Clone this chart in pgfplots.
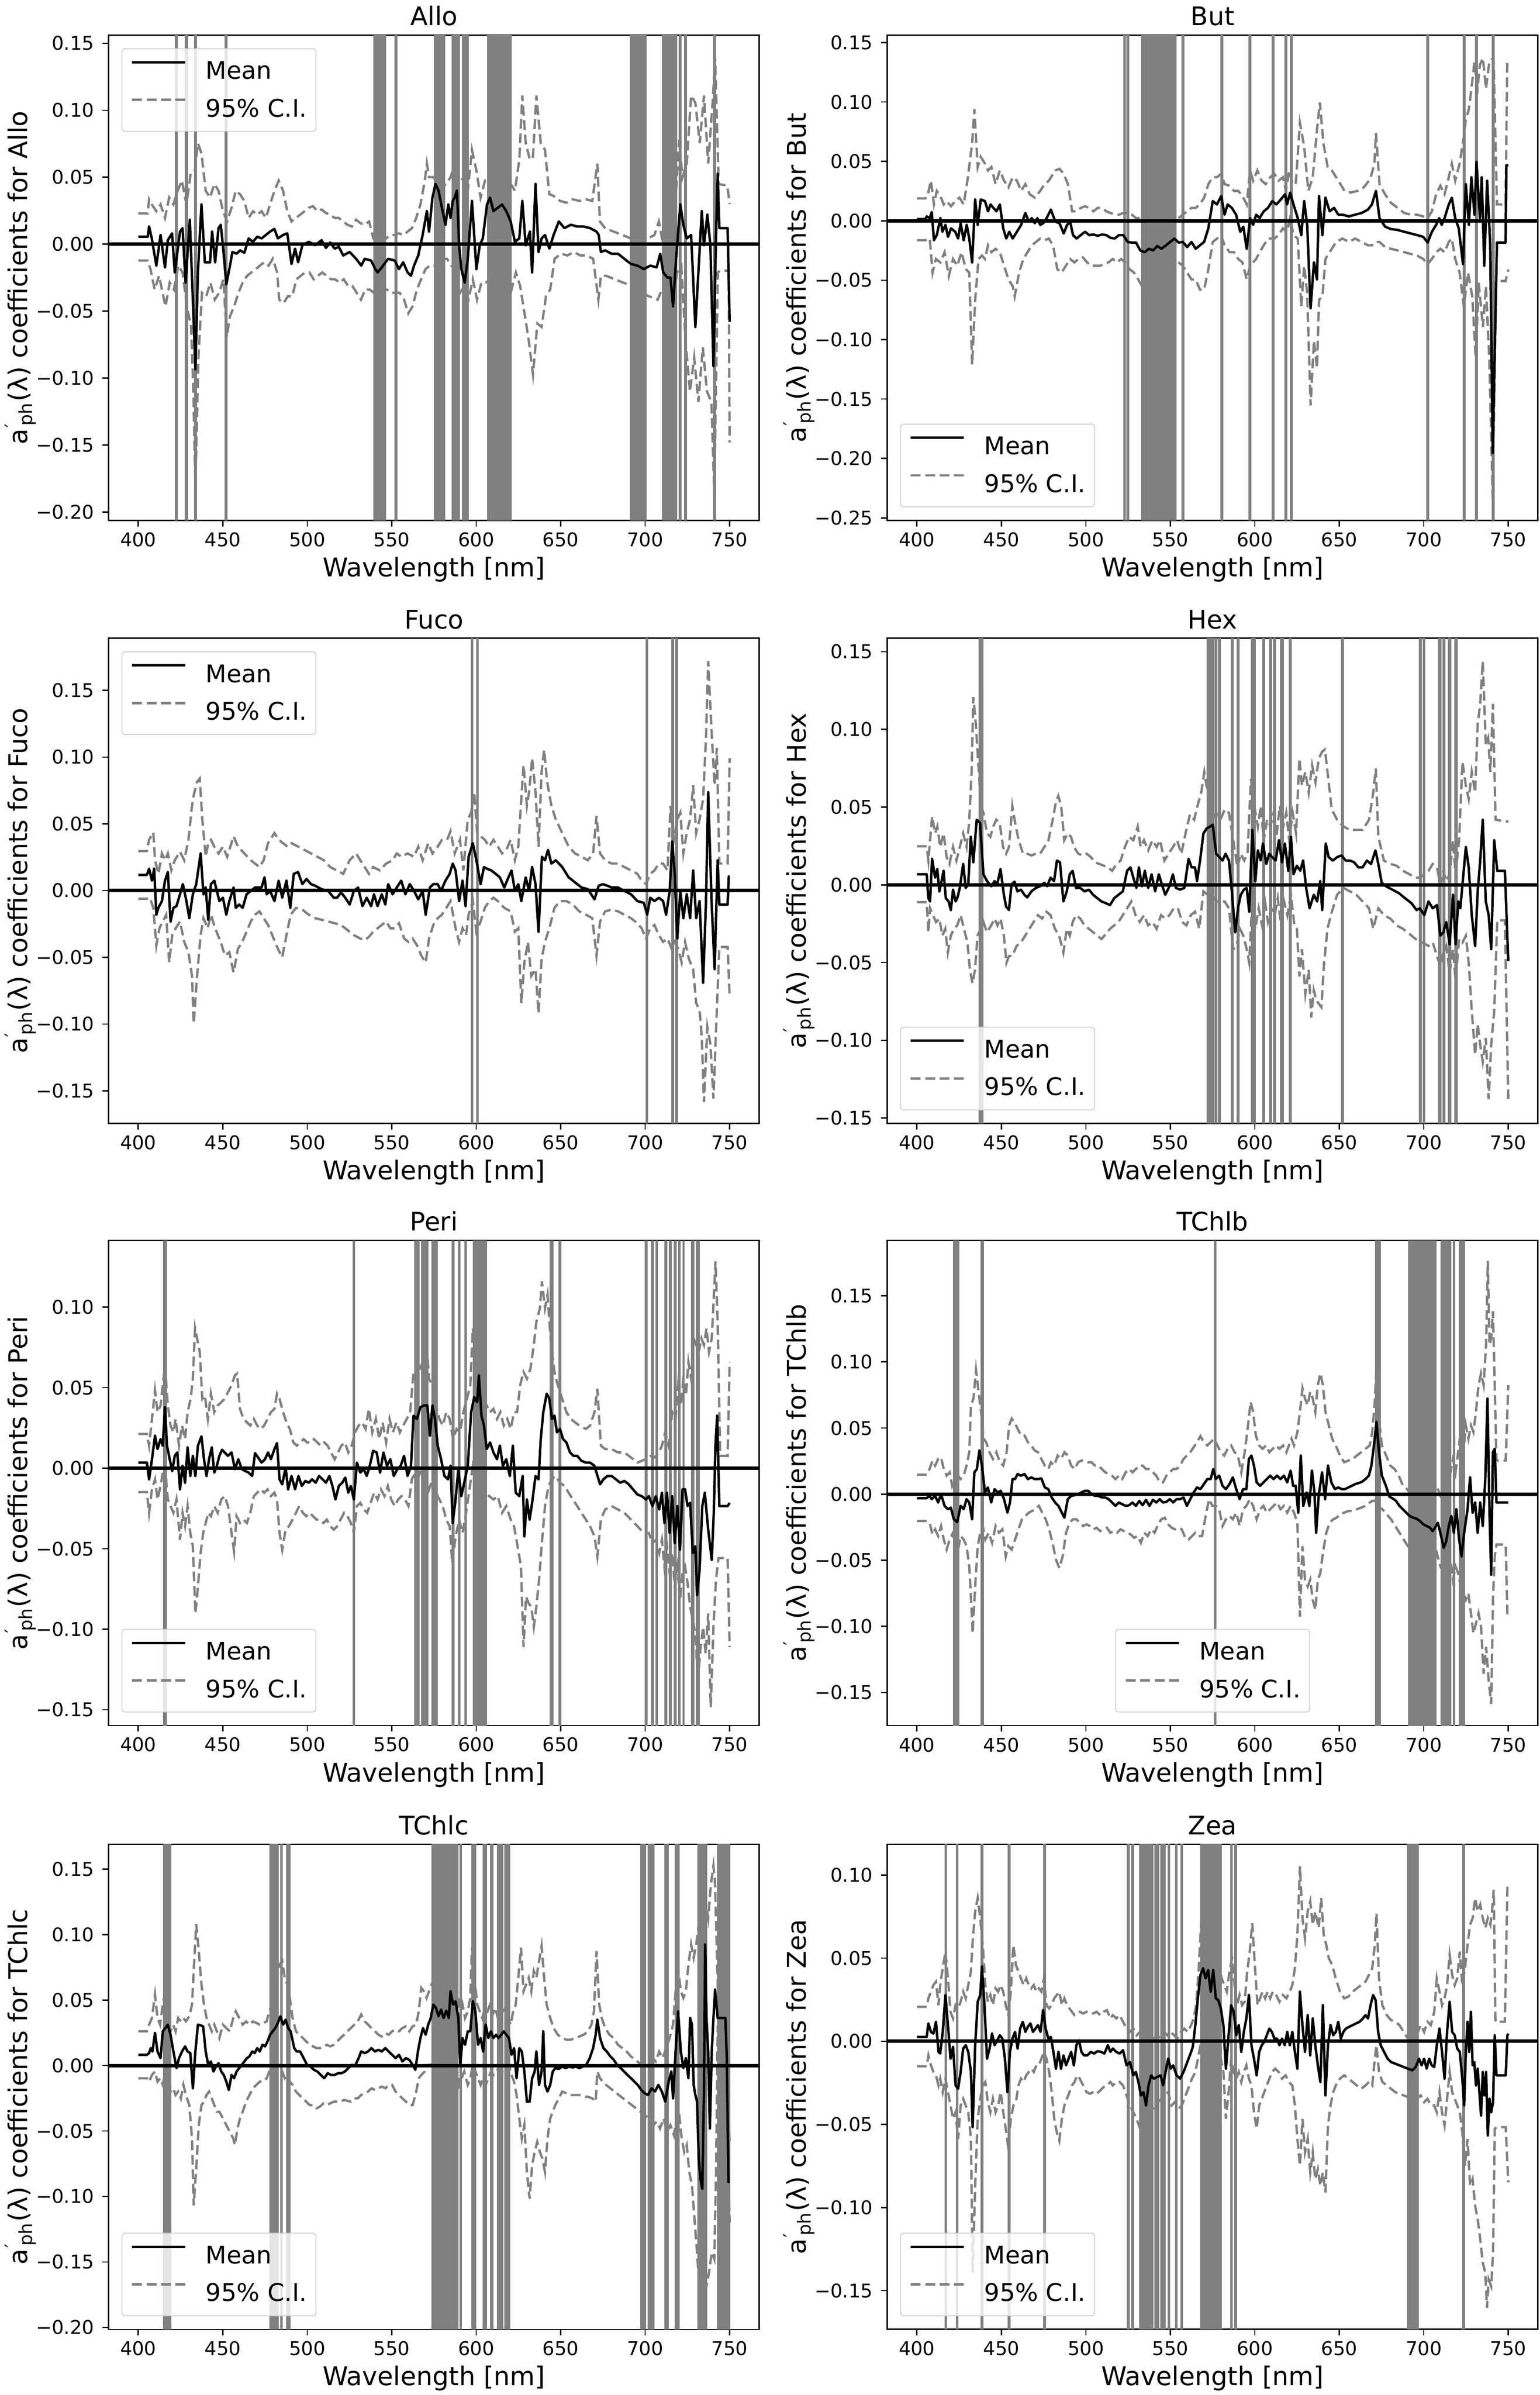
\documentclass[border=0pt]{standalone}
\usepackage{fontspec}
\setmainfont{DejaVu Sans}
\usepackage{pgfplots}
\pgfplotsset{compat=1.18}
\definecolor{bandgray}{RGB}{128,128,128}
\definecolor{cigray}{RGB}{128,128,128}
\definecolor{leggray}{RGB}{204,204,204}
\newcommand{\aph}{a\textsuperscript{\kern0.04em′}\kern-0.12em\textsubscript{ph}(λ)}
\newcommand{\band}[2]{\addplot[fill=bandgray, draw=none, forget plot] coordinates {(#1,-1) (#2,-1) (#2,1) (#1,1)};}
\tikzset{
  meanline/.style={black, line width=1.15pt, line join=round},
  ciline/.style={color=cigray, line width=1.1pt, dash pattern=on 4.6pt off 2.2pt},
  zeroline/.style={black, line width=1.6pt}
}
\pgfplotsset{
  panel/.style={
    scale only axis, width=305.5pt, height=227.8pt, anchor=south west,
    xmin=382.5, xmax=767.5,
    xtick={400,450,500,550,600,650,700,750},
    xticklabels={400,450,500,550,600,650,700,750},
    /pgf/number format/assume math mode=true,
    tick align=outside, tick pos=left, major tick length=2.85pt,
    every tick/.style={black, line width=0.6pt},
    axis line style={line width=0.6pt},
    tick label style={font=\fontsize{8.9}{10}\selectfont},
    yticklabel style={inner xsep=0pt, xshift=-3.8pt},
    xticklabel style={inner ysep=0pt, yshift=-2.6pt},
    xlabel={Wavelength [nm]},
    xlabel style={font=\fontsize{12.1}{14}\selectfont, at={(axis description cs:0.5,0)}, anchor=north, inner sep=0pt, yshift=-17.0pt},
    ylabel style={font=\fontsize{12.1}{14}\selectfont, at={(axis description cs:-0.1254,0.5)}, anchor=base, inner sep=0pt},
    title style={font=\fontsize{12}{14}\selectfont, at={(axis description cs:0.5,1)}, anchor=base, inner sep=0pt, yshift=-1.45pt},
    legend cell align=left,
    legend style={font=\fontsize{11.4}{13}\selectfont, draw=leggray, line width=0.4pt, rounded corners=1.5pt, fill=white, fill opacity=0.8, text opacity=1, draw opacity=1, inner xsep=4.2pt, inner ysep=5.8pt, row sep=8.2pt, nodes={inner sep=0pt, text height=8.3pt, text depth=1pt}},
    legend image code/.code={\draw[##1] (0pt,4.3pt) -- (25pt,4.3pt); \path[draw=none, fill=none] (0pt,4.3pt) -- (34.6pt,4.3pt);},
  },
  ulegend/.style={legend style={at={(0.0197,0.973)}, anchor=north west}},
  llegend/.style={legend style={at={(0.0197,0.027)}, anchor=south west}},
  clegend/.style={legend style={at={(0.5,0.027)}, anchor=south}},
}
\newcommand{\legentries}{\addlegendimage{meanline}\addlegendentry{Mean}\addlegendimage{ciline}\addlegendentry{95\% C.I.}}
\begin{document}
\begin{tikzpicture}
\useasboundingbox (0,0) rectangle (723pt,1124.5pt);
%================ Allo
\begin{axis}[panel, ulegend, at={(51.05pt,880.2pt)},
  ymin=-0.2061, ymax=0.1561,
  ytick={-0.2,-0.15,-0.1,-0.05,0,0.05,0.1,0.15},
  yticklabels={−0.20,−0.15,−0.10,−0.05,0.00,0.05,0.10,0.15},
  title={Allo}, ylabel={\aph{} coefficients for Allo}]
\legentries
\band{421.7}{423.5}\band{427.6}{429.4}\band{432.9}{434.7}\band{451}{452.8}
\band{539}{546.7}\band{551.6}{553.4}\band{575}{581.7}\band{585.3}{590.4}\band{591.7}{595.5}
\band{606.4}{620.9}\band{691}{701}\band{710}{718.8}\band{719.9}{721.7}\band{723}{724.8}\band{740.1}{741.9}
\addplot[ciline, forget plot] coordinates {(400,0.023)(405.6,0.023)(406.4,0.0335)(408,0.0297)(410.7,0.0246)(413.2,0.0297)(415.8,0.0196)(418.3,0.0348)(420.8,0.0297)(423.3,0.0399)(425.8,0.0475)(428.5,0.0297)(431,0.0526)(433.5,0.0551)(435.3,0.0754)(437.4,0.0678)(439.9,0.0399)(442.5,0.0348)(445,0.045)(447.5,0.0399)(450.1,0.0246)(452.6,0.0170)(455.2,0.0272)(457.7,0.0399)(460.2,0.0373)(462.8,0.0323)(465.3,0.0196)(467.9,0.0246)(470.4,0.022)(473,0.0246)(475.5,0.0196)(478,0.0297)(480.6,0.0399)(483.1,0.0475)(485.7,0.0399)(488.2,0.0246)(490.7,0.017)(493.3,0.0196)(495.8,0.022)(498.4,0.0246)(500.9,0.0272)(503.4,0.0284)(506,0.0246)(508.5,0.0259)(511.1,0.0233)(513.6,0.022)(516.2,0.0196)(518.7,0.0196)(521.3,0.017)(523.8,0.0145)(526.4,0.0132)(528.9,0.0183)(531.5,0.0157)(534,0.0145)(536.6,0.017)(539.1,0.0043)(541.6,0.0043)(544.2,0.0069)(546.7,0.0043)(549.3,0.0069)(551.8,0.0069)(554.3,0.0081)(556.9,0.0069)(559.4,0.0094)(562,0.012)(564.5,0.0196)(567,0.0297)(569.6,0.0475)(570.8,0.0602)(572.1,0.0500)(574.7,0.050)(577.2,0.045)(579.7,0.0425)(582.3,0.045)(584.8,0.050)(587.4,0.0602)(589.9,0.045)(592.5,0.050)(595,0.0399)(597.5,0.0704)(600.1,0.0551)(602.6,0.0348)(605.2,0.0475)(607.7,0.0475)(610.2,0.0425)(612.8,0.045)(615.3,0.050)(617.8,0.0475)(620.4,0.045)(622.9,0.0399)(625.5,0.0629)(627.3,0.111)(629.3,0.0755)(631.8,0.0629)(633.6,0.0653)(635.6,0.111)(638.2,0.0755)(640.7,0.0704)(643.3,0.0373)(645.8,0.036)(649.6,0.0323)(653.4,0.0310)(657.2,0.0335)(661,0.0323)(664.9,0.0335)(668.7,0.0323)(671.7,0.0602)(673.2,0.0170)(676.3,0.0119)(681.4,0.0094)(686.5,0.0069)(691.5,0.0043)(696.6,0.0018)(701.7,0.0043)(705.5,0.0069)(708.1,0.017)(710.7,-0.0008)(714.5,0.0043)(718.3,0.0399)(720.1,0.0780)(722.1,0.050)(724.6,0.0602)(727.2,0.111)(729.7,0.1055)(732.3,0.0755)(734.8,0.111)(737.3,0.0602)(739.9,0.1055)(741.4,0.139)(743.5,0.0449)(748.6,0.0437)(750,0.030)};
\addplot[ciline, forget plot] coordinates {(400,-0.0122)(405.6,-0.0122)(407.2,-0.0186)(409.7,-0.0338)(412.3,-0.0236)(416.1,-0.0465)(418.6,-0.0287)(421.1,-0.0338)(423.7,-0.0160)(426.2,-0.0211)(428.8,-0.0465)(431.3,-0.0618)(432.6,-0.1101)(433.8,-0.1812)(435.6,-0.0846)(437.7,-0.0363)(440.2,-0.0389)(442.7,-0.0287)(445.3,-0.0414)(447.8,-0.0363)(450.4,-0.0262)(452.4,-0.0694)(454.2,-0.054)(456.7,-0.0465)(459.3,-0.0363)(461.8,-0.0287)(464.4,-0.0236)(466.9,-0.0211)(469.5,-0.0186)(472,-0.016)(474.5,-0.0135)(477.1,-0.016)(479.6,-0.0109)(482.2,-0.0211)(483.4,-0.0414)(486,-0.044)(488.5,-0.0389)(491.1,-0.0389)(493.6,-0.0262)(496.2,-0.0236)(498.7,-0.0211)(501.3,-0.0211)(503.8,-0.0262)(506.3,-0.0236)(508.9,-0.0211)(511.4,-0.0236)(514,-0.0262)(516.5,-0.0262)(519.1,-0.0287)(521.6,-0.0262)(524.2,-0.0312)(526.7,-0.0312)(529.3,-0.0363)(531.8,-0.0414)(534.3,-0.0338)(536.9,-0.0338)(539.4,-0.0363)(542,-0.0363)(544.5,-0.0338)(547.1,-0.0338)(549.6,-0.0363)(552.2,-0.0363)(554.7,-0.0363)(557.3,-0.0414)(559.8,-0.0516)(562.3,-0.0465)(564.9,-0.0338)(567.4,-0.0262)(570,-0.0186)(572.5,-0.016)(575.1,-0.016)(577.6,-0.0186)(580.2,-0.0109)(582.7,-0.0109)(585.3,-0.016)(587.8,-0.0186)(590.4,-0.0363)(592.9,-0.0312)(595.4,-0.0414)(598,-0.0262)(600.5,-0.0414)(603.1,-0.0287)(605.6,-0.0287)(608.2,-0.0262)(610.7,-0.0287)(613.3,-0.0236)(615.8,-0.0236)(618.4,-0.0211)(620.9,-0.0338)(623.5,-0.0211)(626,-0.0312)(628.6,-0.0516)(631.1,-0.0720)(633.6,-0.0973)(636.2,-0.0592)(638.7,-0.0618)(641.3,-0.0389)(643.8,-0.0338)(646.4,-0.0109)(650.2,-0.0071)(654,-0.0084)(657.8,-0.0058)(661.6,-0.0084)(665.4,-0.0084)(669.2,-0.0109)(672.3,-0.0414)(673.8,-0.0236)(676.9,-0.0236)(682,-0.0262)(687.1,-0.0287)(692.2,-0.0312)(697.2,-0.0363)(702.3,-0.0389)(707.4,-0.0414)(709.9,-0.0338)(712.5,-0.0414)(716.3,-0.0516)(718.8,-0.0211)(721.4,-0.016)(723.9,-0.0720)(726.5,-0.1101)(729,-0.0846)(731.5,-0.1177)(734.1,-0.0770)(736.6,-0.1101)(739.2,-0.1177)(740.9,-0.1863)(743,-0.0211)(744.3,-0.0198)(749.4,-0.0198)(750,-0.148)};
\addplot[meanline, forget plot] coordinates {(400,0.0056)(405.6,0.0056)(406.4,0.0132)(408,0.0043)(410.7,-0.016)(413.2,0.0069)(415.8,-0.0173)(417.5,0.003)(420,0.0081)(421.6,-0.0211)(424.7,0.0094)(426.2,0.012)(428,-0.0287)(430.5,0.0183)(432.3,-0.0414)(433.8,-0.0935)(435.3,-0.0211)(437.4,0.0297)(439.4,-0.0135)(442.5,-0.0135)(443.7,0.0094)(445.5,-0.0135)(447.5,0.012)(448.8,0.0145)(450.1,-0.0008)(452.1,-0.03)(453.9,-0.0186)(455.7,-0.0058)(458.2,-0.0071)(460.2,-0.0046)(462.8,-0.0064)(465.3,0.0043)(467.9,0.0018)(470.4,0.0056)(473,0.0043)(475.5,0.0069)(478,0.0094)(480.6,0.0114)(482.6,0.0043)(485.7,0.0069)(488.2,0.0081)(490.7,-0.0147)(492.8,-0.0033)(494.6,-0.0135)(497.1,-0.0008)(500.9,0.0018)(504.7,-0.0008)(508.5,0.003)(511.1,-0.0028)(513.6,0.0013)(516.2,-0.0033)(518.7,-0.002)(521.3,-0.0084)(525.1,-0.0058)(528.9,-0.0109)(532,-0.0160)(534,-0.0109)(537.8,-0.0122)(540.3,-0.0186)(541.6,-0.0211)(544.1,-0.0173)(547.9,-0.0109)(551.8,-0.0122)(554.3,-0.0186)(556.8,-0.0135)(559.4,-0.0211)(561.4,-0.0236)(563.2,-0.016)(565.7,-0.0084)(568.3,0.0069)(570.8,0.0247)(572.1,0.0094)(574.1,0.0348)(575.9,0.045)(577.7,0.040)(579.7,0.0272)(581.8,0.0145)(583.5,0.0297)(584.8,0.0196)(586.1,0.0323)(587.3,0.0348)(588.6,0.040)(589.9,-0.0008)(591.2,-0.0186)(593.2,-0.0287)(595,-0.0109)(597.5,0.0323)(600.1,-0.0186)(602.1,-0.0008)(603.9,0.0043)(606.4,0.0297)(608.2,0.0348)(610.2,0.0247)(612.8,0.0272)(615.3,0.0297)(617.8,0.0247)(620.4,0.017)(622.9,0.0018)(625.5,0.0043)(627.3,0.0323)(629.3,-0.0008)(631.8,0.0094)(633.1,-0.0211)(635.1,0.045)(636.9,-0.0058)(638.7,0.0043)(640.7,0.0069)(643.3,-0.0033)(645.8,0.0069)(648.9,0.017)(652.2,0.012)(656,0.0145)(659.8,0.0132)(663.6,0.0132)(667.4,0.012)(671.2,0.0094)(672.5,0.0069)(673.8,-0.0058)(676.3,-0.0046)(680.1,-0.0071)(683.9,-0.0071)(687.7,-0.0109)(691.5,-0.0147)(695.4,-0.016)(699.2,-0.0186)(703,-0.016)(706.8,-0.0173)(708.9,-0.0071)(710.7,-0.0211)(713.2,-0.0249)(715,-0.0249)(716.5,-0.0465)(718.3,-0.0109)(720.8,0.0297)(722.6,0.0145)(724.6,0.0043)(727.2,0.0069)(729.7,-0.0618)(733.5,0.0247)(734.8,-0.0008)(736.8,0.0221)(738.6,-0.0008)(740.4,-0.0910)(741.9,0.0043)(742.9,0.0526)(743.9,0.012)(748.8,0.012)(750,-0.058)};
\addplot[zeroline, forget plot] coordinates {(382.5,0)(767.5,0)};
\end{axis}
%================ But
\begin{axis}[panel, llegend, at={(416.7pt,880.2pt)},
  ymin=-0.252, ymax=0.1563,
  ytick={-0.25,-0.2,-0.15,-0.1,-0.05,0,0.05,0.1,0.15},
  yticklabels={−0.25,−0.20,−0.15,−0.10,−0.05,0.00,0.05,0.10,0.15},
  title={But}, ylabel={\aph{} coefficients for But}]
\legentries
\band{522.1}{523.8}\band{524}{525.8}\band{532.7}{553.7}\band{556.5}{558.3}\band{579.7}{581.5}\band{596.1}{597.9}
\band{609.9}{611.7}\band{617.4}{619.4}\band{620.8}{622.6}\band{701.4}{703.2}\band{723}{724.8}\band{730.3}{732.1}\band{740.1}{741.9}
\addplot[ciline, forget plot] coordinates {(400,0.0189)(405,0.0189)(406.3,0.0209)(408.3,0.0338)(410.1,0.0138)(411.8,0.0252)(413.9,0.0209)(415.9,0.0138)(417.6,0.0166)(420.2,0.0123)(422.7,0.0166)(425.2,0.0195)(427.7,0.0138)(430.2,0.0367)(432.7,0.0653)(434,0.094)(436,0.0453)(437.8,0.0539)(440.3,0.0481)(442.1,0.0424)(444.1,0.0453)(446.6,0.0309)(449.1,0.0424)(451.6,0.0338)(454.2,0.0281)(456.7,0.0367)(459.2,0.0338)(461.7,0.0252)(464.2,0.0309)(466.8,0.0223)(469.8,0.0195)(473,0.0252)(475.6,0.0309)(478.1,0.0338)(481.9,0.0424)(484.4,0.0438)(486.9,0.0395)(489.4,0.0309)(491.9,0.008)(494.5,0.008)(497,0.0109)(499.5,0.0123)(502,0.0109)(504.5,0.008)(507,0.0109)(509.6,0.0109)(512.1,0.008)(514.6,0.0066)(517.1,0.0052)(519.6,0.0052)(522.2,0.0066)(524.7,0.0066)(527.2,0.0052)(529.7,0.0023)(532.2,0.0023)(534.8,-0.0006)(537.3,-0.0034)(539.8,-0.0034)(542.3,-0.0063)(544.8,-0.0034)(547.4,-0.0006)(549.9,-0.0034)(552.4,-0.0006)(554.9,0.0023)(557.4,0.0052)(560,0.008)(562.5,0.0109)(565,0.0109)(567.5,0.0138)(570,0.0195)(572.5,0.0309)(575.1,0.0367)(577.6,0.0367)(580.1,0.0395)(582.1,0.0309)(585.1,0.0295)(587.7,0.0252)(590.2,0.0252)(592.7,0.0209)(595.2,0.0138)(597.2,0.0424)(599,0.0338)(601.5,0.0424)(604,0.0338)(606.5,0.0309)(609.1,0.0367)(611.6,0.0395)(614.1,0.0338)(616.6,0.0367)(618.4,0.0252)(620.4,0.0424)(622.4,0.0309)(624.2,0.0309)(626.7,0.0825)(629.2,0.0625)(631.7,0.0252)(634.3,0.0367)(636.8,0.0768)(638.5,0.0997)(640.6,0.0653)(643.1,0.0453)(645.6,0.0424)(649.4,0.0338)(653.1,0.0252)(656.9,0.0238)(660.7,0.0252)(664.5,0.0281)(668.3,0.0352)(670.8,0.0481)(671.7,0.0739)(673.8,0.0309)(677.1,0.0223)(680.5,0.0152)(684.6,0.0109)(688.4,0.0066)(692.2,0.0052)(696,0.0052)(699.7,0.0037)(702.3,0.0023)(704.8,0.008)(707.3,0.0223)(709.8,0.0295)(712.3,0.0223)(714.8,0.0367)(716.6,0.0481)(718.6,0.0338)(721.2,0.0481)(723.7,0.0711)(724.9,0.0854)(726.7,0.094)(728.2,0.1112)(730,0.1341)(731.8,0.1112)(733.2,0.1312)(735,0.137)(736.8,0.1112)(738.8,0.1341)(741.3,0.137)(743.3,0.0138)(748.4,0.0138)(749.4,0.1347)(750,0.1347)};
\addplot[ciline, forget plot] coordinates {(400,-0.0163)(405,-0.0163)(407.6,-0.0149)(409.3,-0.0436)(411.3,-0.0321)(413.9,-0.035)(416.4,-0.0264)(418.9,-0.0464)(421.4,-0.0321)(423.9,-0.0378)(426.4,-0.0264)(429,-0.0407)(431,-0.0436)(432.7,-0.1209)(434.5,-0.0665)(436.5,-0.0321)(438.5,-0.0292)(440.3,-0.0321)(442.1,-0.0206)(444.1,-0.0264)(446.6,-0.0235)(449.1,-0.0264)(451.6,-0.0378)(454.2,-0.0493)(456.7,-0.055)(457.9,-0.0636)(460.5,-0.0436)(463,-0.0321)(465.5,-0.0264)(468,-0.0206)(470.5,-0.0178)(473,-0.0149)(475.6,-0.0163)(478.1,-0.0149)(480.6,-0.0206)(483.1,-0.0407)(485.6,-0.0436)(488.2,-0.0378)(490.7,-0.0321)(493.2,-0.035)(495.7,-0.0321)(498.2,-0.0307)(500.8,-0.035)(503.3,-0.0378)(505.8,-0.0378)(508.3,-0.0378)(510.8,-0.0364)(513.4,-0.035)(515.9,-0.0321)(518.4,-0.035)(520.9,-0.0321)(523.4,-0.035)(525.9,-0.0407)(528.5,-0.0436)(531,-0.0493)(532.7,-0.0536)(535.3,-0.0436)(538.5,-0.0407)(542.3,-0.0378)(546.1,-0.0407)(549.9,-0.0378)(552.4,-0.035)(554.9,-0.035)(557.4,-0.0378)(560,-0.0436)(562.5,-0.0493)(565,-0.0493)(567.5,-0.0579)(570,-0.0579)(572.5,-0.0407)(575.1,-0.0178)(577.6,-0.0149)(580.1,-0.012)(582.1,-0.0206)(585.1,-0.0264)(587.7,-0.0264)(590.2,-0.0321)(592.7,-0.035)(595.2,-0.0493)(597.2,-0.0378)(600.8,-0.0321)(602.8,-0.0264)(605.3,-0.0206)(607.8,-0.0149)(611.6,-0.0149)(614.1,-0.012)(616.6,-0.0063)(619.1,-0.0092)(620.9,0.0023)(622.9,-0.012)(625.4,-0.0149)(627.5,-0.0722)(629.2,-0.0378)(631,-0.0607)(633,-0.1553)(635,-0.1009)(636.8,-0.1238)(638,-0.0665)(640,-0.0636)(641.8,-0.0321)(644.3,-0.0264)(648.1,-0.0178)(651.9,-0.0149)(655.7,-0.0178)(659.4,-0.0149)(663.2,-0.0178)(667,-0.0206)(669.3,-0.0206)(671.7,-0.0178)(673.8,-0.0178)(677.1,-0.0221)(680.5,-0.0235)(684.6,-0.0249)(688.4,-0.0264)(692.2,-0.0278)(696,-0.0292)(699.7,-0.0321)(702.3,-0.0364)(704.8,-0.0321)(707.3,-0.0264)(709.8,-0.0235)(712.3,-0.0264)(714.8,-0.0178)(716.6,-0.0149)(718.6,-0.0321)(721.2,-0.0436)(723.7,-0.0722)(726.2,-0.0436)(728.7,-0.0636)(730.7,-0.1152)(732.5,-0.0521)(735,-0.0894)(736.8,-0.055)(738.8,-0.118)(740.8,-0.2341)(742.8,-0.0507)(748.4,-0.0507)(750,-0.041)};
\addplot[meanline, forget plot] coordinates {(400,0.0014)(405,0.0014)(405.8,0.0037)(407.6,0.0023)(408.8,0.0074)(410.1,-0.0163)(411.8,-0.012)(413.9,0.0023)(415.1,-0.0092)(416.9,-0.0034)(418.4,-0.0135)(420.2,-0.0063)(422.7,-0.0092)(424.4,-0.0149)(425.9,-0.002)(427.7,-0.0163)(429.5,-0.0034)(431,-0.0149)(432.7,-0.035)(434.5,0.018)(436,-0.0034)(437.8,0.018)(440.3,0.0166)(442.1,0.008)(443.6,0.0138)(445.3,0.0109)(447.1,0.008)(449.1,0.0138)(451.1,-0.0063)(452.9,-0.0149)(454.7,-0.0092)(456.7,-0.0149)(459.2,-0.0092)(461.7,-0.0034)(464.2,0.0066)(466.2,-0.0006)(468,0.0023)(469.8,-0.002)(471.3,0.0023)(473,-0.0034)(474.8,-0.002)(476.8,0.0023)(479.3,0.0095)(481.9,-0.0006)(484.4,-0.002)(486.9,-0.0106)(488.9,-0.0034)(490.7,-0.0006)(492.4,-0.012)(494.5,-0.0149)(497,-0.012)(499.5,-0.0092)(502,-0.012)(504.5,-0.0115)(507,-0.0126)(509.6,-0.0115)(512.1,-0.012)(514.6,-0.0143)(517.1,-0.0149)(519.6,-0.012)(522.2,-0.012)(524.7,-0.0178)(527.2,-0.0183)(529.7,-0.0183)(532.2,-0.0249)(534.8,-0.0264)(537.3,-0.0235)(539.8,-0.0249)(542.3,-0.0212)(544.8,-0.0235)(547.4,-0.0206)(549.9,-0.0178)(552.4,-0.0149)(554.9,-0.0183)(557.4,-0.0178)(560,-0.0221)(562.5,-0.0178)(565,-0.0235)(567.5,-0.0206)(570,-0.0178)(572.5,-0.0063)(575.1,0.0166)(577.6,0.0138)(580.1,0.0209)(582.1,0.0052)(583.9,0.0138)(586.4,0.0109)(588.9,0.0052)(591.4,-0.0092)(593.2,-0.0049)(595.2,-0.0235)(597.2,0.0023)(599,-0.0034)(600.8,0.0052)(602.8,0.0023)(605.3,0.008)(607.8,0.0109)(610.3,0.0166)(612.8,0.0138)(615.4,0.018)(617.9,0.0223)(619.1,0.0138)(620.9,0.0238)(622.9,0.0138)(625.4,0.0023)(627.5,-0.012)(629.2,0.0166)(631,-0.0034)(633,-0.0736)(635,-0.035)(636.8,-0.0493)(638,0.0209)(640,-0.012)(641.8,0.0195)(644.3,0.008)(646.9,0.0109)(649.4,0.0052)(651.9,0.0052)(655.7,0.0037)(659.4,0.0052)(663.2,0.0066)(667,0.0095)(669.3,0.0138)(671.7,0.0252)(673.8,0.0023)(677.1,-0.0049)(680.5,-0.0069)(684.6,-0.0077)(688.4,-0.0092)(692.2,-0.0106)(696,-0.012)(699.7,-0.0135)(702.3,-0.0183)(704.8,-0.0092)(707.3,-0.0034)(709.1,0.0023)(710.6,-0.0034)(712.3,0.0023)(714.8,0.0138)(716.6,0.0195)(718.6,0.0023)(720.7,-0.0063)(723.2,-0.0364)(724.9,0.0309)(726.7,-0.0034)(728.2,0.0367)(730,0.0052)(731.2,0.0496)(733.2,0.0023)(734.3,0.0367)(735.8,-0.0378)(737.5,0.0338)(739.3,-0.02)(740.8,-0.1954)(743.3,-0.0183)(748.4,-0.0183)(748.9,0.0467)(750,0.0467)};
\addplot[zeroline, forget plot] coordinates {(382.5,0)(767.5,0)};
\end{axis}
%================ Fuco
\begin{axis}[panel, ulegend, at={(51.05pt,597.0pt)},
  ymin=-0.1745, ymax=0.189,
  ytick={-0.15,-0.1,-0.05,0,0.05,0.1,0.15},
  yticklabels={−0.15,−0.10,−0.05,0.00,0.05,0.10,0.15},
  title={Fuco}, ylabel={\aph{} coefficients for Fuco}]
\legentries
\band{596.7}{598.3}\band{600}{601.6}\band{700.2}{701.8}\band{715.5}{717.2}\band{717.8}{719.6}
\addplot[ciline, forget plot] coordinates {(400,0.0296)(405.1,0.0296)(406.4,0.038)(408.9,0.0436)(409.9,0.0227)(411.9,0.0125)(414,0.0278)(415.8,0.0227)(417.5,0.0278)(419.6,0.0151)(421.6,0.0227)(424.7,0.0291)(427.2,0.0227)(429.7,0.038)(431.8,0.0635)(432.8,0.0712)(434.8,0.0814)(436.4,0.0839)(437.9,0.0533)(439.9,0.0253)(441.4,0.0355)(443,0.038)(445,0.0329)(447.5,0.0278)(450.1,0.0329)(452.6,0.0253)(456.4,0.0406)(459,0.0329)(462.8,0.0278)(466.6,0.0227)(469.1,0.0202)(471.7,0.0176)(474.2,0.0227)(476.8,0.0355)(480.6,0.0431)(483.1,0.038)(485.7,0.0355)(488.2,0.0329)(490.7,0.0355)(494.6,0.0329)(498.4,0.0304)(502.2,0.0278)(506,0.0253)(509.8,0.0227)(513.6,0.0176)(517.4,0.0151)(521.3,0.0125)(525.1,0.0227)(528.9,0.0278)(531.4,0.0227)(534,0.0176)(536.5,0.0125)(539,0.0176)(542.9,0.0151)(546.7,0.0202)(550.5,0.0227)(553,0.0278)(555.6,0.0253)(559.4,0.0278)(563.2,0.0253)(565.7,0.0329)(568.3,0.0227)(571.6,0.0355)(574.1,0.0278)(577.2,0.0329)(579.7,0.038)(582.8,0.038)(584.8,0.0444)(587.3,0.0278)(590.4,0.038)(592.4,0.0151)(595,0.0533)(597,0.0584)(598.8,0.0737)(600.6,0.0431)(602.6,0.0406)(605.1,0.038)(607.7,0.0329)(610.2,0.038)(612.8,0.0329)(615.3,0.0278)(617.8,0.0304)(620.4,0.038)(622.9,0.0227)(624.9,0.0329)(626.7,0.0686)(628,0.0941)(630,0.0635)(631.3,0.0737)(633.1,0.0992)(635.1,0.0737)(636.9,0.0329)(638.7,0.089)(640.2,0.1056)(642,0.0814)(644.5,0.0635)(647.1,0.0533)(650.9,0.0431)(654.7,0.0329)(658.5,0.0278)(662.3,0.0253)(666.1,0.0227)(669.2,0.0278)(671.2,0.0559)(673.3,0.0278)(676.3,0.0227)(680.1,0.0202)(683.9,0.0202)(687.7,0.0176)(691.6,0.0151)(695.4,0.0125)(697.9,0.0074)(700.5,0.0048)(703,0.0125)(705.5,0.0151)(708.1,0.0202)(710.6,0.0202)(713.2,0.0151)(715,0.0635)(717,0.038)(719,0.0533)(720.8,0.0584)(722.6,0.0278)(724.6,0.0431)(726.6,0.0533)(728.4,0.0788)(730.2,0.0431)(732.2,0.0533)(734.3,0.0686)(736,0.1145)(737.3,0.1719)(739.3,0.1196)(741.1,0.0788)(742.4,0.1069)(743.9,0.0202)(748.8,0.0202)(750,0.0992)};
\addplot[ciline, forget plot] coordinates {(400,-0.0061)(405.1,-0.0061)(406.9,-0.0054)(408.9,-0.013)(410.7,-0.0411)(412.5,-0.0283)(414.5,-0.0232)(416.5,-0.0181)(418.3,-0.0539)(420.1,-0.0334)(422.1,-0.0283)(424.7,-0.0232)(427.2,-0.0385)(429.7,-0.0462)(431.8,-0.064)(432.8,-0.0997)(434.8,-0.064)(436.9,-0.0334)(438.6,-0.0207)(441.1,-0.0283)(443,-0.0181)(445.5,-0.0283)(448.8,-0.0385)(451.3,-0.0487)(453.9,-0.0462)(456.4,-0.0615)(459,-0.0436)(461.5,-0.0385)(464.1,-0.0309)(466.6,-0.0232)(469.1,-0.0181)(471.7,-0.0156)(474.2,-0.0207)(476.8,-0.0258)(479.3,-0.0334)(482.6,-0.0436)(485.2,-0.05)(487.7,-0.0334)(490.2,-0.0181)(493.3,-0.013)(497.1,-0.0143)(500.9,-0.0181)(504.7,-0.0207)(508.5,-0.0219)(512.4,-0.0232)(516.2,-0.0245)(520,-0.0258)(523.8,-0.0296)(527.6,-0.0334)(531.4,-0.036)(534,-0.0372)(536.5,-0.0347)(539,-0.0309)(541.6,-0.0283)(544.1,-0.0258)(546.7,-0.0232)(549.2,-0.0283)(551.8,-0.0283)(554.3,-0.0245)(557.4,-0.036)(559.9,-0.0385)(562.4,-0.036)(565,-0.0411)(567.5,-0.0487)(570.1,-0.0539)(572.1,-0.036)(574.6,-0.0258)(577.2,-0.0207)(579.7,-0.0181)(582.3,-0.013)(584.8,-0.0079)(587.8,-0.0283)(589.9,-0.0385)(591.9,-0.0283)(594,-0.0334)(595.5,-0.0181)(598,-0.0079)(600.1,-0.0309)(602.6,-0.0232)(605.1,-0.013)(607.7,-0.0079)(610.2,-0.0054)(612.8,-0.0079)(616.6,-0.013)(620.4,-0.0156)(622.9,-0.0309)(624.9,-0.0283)(626.7,-0.0844)(628.5,-0.0539)(630.6,-0.0385)(632.6,-0.064)(635.1,-0.0589)(636.9,-0.0921)(638.7,-0.0513)(640.7,-0.0385)(643.3,-0.0283)(646.3,-0.013)(649.6,-0.0079)(653.4,-0.0079)(657.2,-0.0105)(661,-0.0156)(664.9,-0.0181)(668.7,-0.0207)(671.2,-0.0487)(673.3,-0.0232)(676.3,-0.0156)(680.1,-0.0143)(683.9,-0.0156)(687.7,-0.0181)(691.6,-0.0207)(695.4,-0.0245)(697.9,-0.0283)(700.5,-0.036)(703,-0.0283)(705.5,-0.0258)(708.1,-0.0334)(710.6,-0.0385)(713.2,-0.036)(715.7,-0.0436)(717.5,-0.0385)(719.5,-0.0436)(721.6,-0.0539)(723.6,-0.0385)(725.9,-0.0513)(728.4,-0.0589)(730.2,-0.0844)(732.2,-0.0895)(733.5,-0.1099)(734.8,-0.1584)(736.8,-0.1023)(738.6,-0.115)(740.4,-0.1559)(742.4,-0.0895)(743.9,-0.0423)(748.8,-0.0423)(750,-0.0793)};
\addplot[meanline, forget plot] coordinates {(400,0.0117)(405.1,0.0117)(406.4,0.0163)(408.1,0.0074)(409.4,0.0163)(410.7,-0.0181)(411.9,-0.013)(414,-0.0079)(415.8,0.0074)(417.5,0.0138)(419.1,-0.0232)(420.8,-0.013)(422.6,-0.0117)(424.7,-0.0028)(426.4,0.0048)(428.5,-0.0079)(430.2,-0.0207)(432.3,-0.0028)(434.3,0.0048)(436.9,0.0278)(438.6,-0.0028)(439.9,0.0023)(441.4,-0.0219)(443,0.0048)(445,0.0074)(446.5,-0.0003)(448,-0.0079)(450.1,-0.0054)(452.1,-0.0181)(453.9,-0.0079)(456.4,0.0023)(457.7,-0.013)(459.7,-0.0105)(461.8,-0.013)(464.1,-0.0028)(466.6,-0.0003)(469.1,0.0023)(470.9,0.0023)(473,0.0023)(474.7,0.0099)(476,-0.0028)(478,-0.0003)(480.6,-0.0079)(483.1,0.0074)(485.2,-0.0054)(487.7,0.0074)(490,-0.013)(492,0.0125)(494.6,0.0138)(497.1,0.0048)(499.6,0.0087)(502.2,0.0048)(504.7,0.0036)(508.5,0.001)(512.4,-0.0003)(515.7,-0.0054)(517.7,-0.0054)(520,-0.0015)(522.5,-0.0054)(525.1,-0.0105)(527.6,-0.0003)(530.1,0.0023)(532.7,-0.0117)(535.2,-0.0054)(537.8,-0.0117)(539.5,-0.0028)(541.6,-0.0117)(544.1,-0.0028)(546.2,-0.0105)(547.9,0.0048)(550.5,-0.0028)(553,0.0023)(555.6,0.0074)(558.1,-0.0028)(560.7,0.0048)(563.2,-0.0003)(565.7,-0.0066)(568.3,-0.0003)(570.1,-0.0181)(572.6,0.0023)(574.6,0.0048)(577.2,0.0048)(579.2,-0.0003)(581.8,0.0074)(584.3,0.0125)(586.1,0.0202)(587.8,0.0151)(589.9,-0.0079)(591.9,0.0074)(593.7,-0.0117)(595.5,0.0253)(598,0.0355)(600.1,0.0227)(602.6,0.0048)(604.6,0.0176)(606.4,0.0163)(608.9,0.0151)(611.5,0.0125)(614,0.0099)(616.6,0.0023)(619.1,0.0099)(620.9,0.015)(622.9,-0.0003)(624.9,0.0048)(626.7,-0.0079)(629.3,0.0099)(631.3,-0.0003)(633.1,0.0176)(635.1,0.0048)(636.9,-0.0309)(638.9,0.0253)(640.7,0.0227)(642.5,0.0304)(644.5,0.0202)(647.1,0.0227)(650.9,0.0176)(654.7,0.0099)(658.5,0.0061)(662.3,0.0023)(666.1,0.001)(670,-0.0066)(672.5,0.0036)(675,0.0048)(677.6,0.0036)(680.1,0.0023)(683.9,0.0023)(687.7,-0.0003)(691.6,-0.0028)(695.4,-0.0079)(699.2,-0.0092)(701.2,-0.0181)(703,-0.0054)(705.5,-0.0079)(708.1,-0.0054)(710.6,-0.0079)(712.4,-0.0181)(714.5,-0.0003)(716,0.0367)(717.5,0.0125)(719,-0.036)(720.8,-0.0003)(722.6,-0.0207)(724.6,-0.0028)(726.6,-0.0207)(728.4,0.0150)(730.2,-0.0207)(732.2,-0.0079)(734.3,-0.0691)(736,-0.0079)(737.3,0.0737)(739.3,-0.0079)(741.1,-0.0589)(742.9,0.0227)(743.9,-0.0105)(748.8,-0.0105)(749.5,0.0105)(750,0.0105)};
\addplot[zeroline, forget plot] coordinates {(382.5,0)(767.5,0)};
\end{axis}
%================ Hex
\begin{axis}[panel, llegend, at={(416.7pt,597.0pt)},
  ymin=-0.1535, ymax=0.1586,
  ytick={-0.15,-0.1,-0.05,0,0.05,0.1,0.15},
  yticklabels={−0.15,−0.10,−0.05,0.00,0.05,0.10,0.15},
  title={Hex}, ylabel={\aph{} coefficients for Hex}]
\legentries
\band{436.4}{439.4}\band{571.6}{575.9}\band{576.2}{578}\band{578.2}{580}\band{585.8}{587.6}\band{589.3}{591.1}
\band{597.6}{600.6}\band{604.4}{606.2}\band{608.4}{610.2}\band{610.9}{612.7}\band{614.8}{617.3}\band{620.2}{622}
\band{650.9}{652.7}\band{697}{698.8}\band{699.3}{701}\band{708.5}{710.5}\band{711}{712.8}\band{714.4}{716.2}\band{718.2}{720}
\addplot[ciline, forget plot] coordinates {(400,0.0248)(405.8,0.0248)(406.8,0.0156)(407.8,0.0287)(409,0.0441)(410.8,0.0331)(412.1,0.0375)(413.8,0.0243)(415.8,0.0331)(417.6,0.0178)(419.3,0.0134)(421.4,0.0243)(423.4,0.0156)(425.4,0.0243)(427.4,0.0331)(429.4,0.0243)(430.9,0.0397)(432.4,0.0726)(433.4,0.1208)(434.9,0.1033)(436.4,0.077)(437.9,0.0507)(439.4,0.0463)(441.5,0.0331)(443.5,0.0309)(445.2,0.0375)(447,0.0419)(449,0.0397)(451,0.0243)(452.8,0.02)(454.5,0.0243)(456.5,0.0507)(458.5,0.0375)(460.3,0.0287)(462.8,0.02)(465.3,0.02)(467.8,0.0189)(470.4,0.02)(472.9,0.02)(475.4,0.0243)(477.9,0.0287)(480.4,0.0419)(482.2,0.0529)(483.7,0.0572)(485.4,0.0507)(487.2,0.0287)(489.2,0.0331)(491.2,0.0309)(493,0.0243)(495.5,0.02)(498,0.0189)(500.5,0.02)(503,0.0178)(505.5,0.0145)(508,0.0134)(510.6,0.0123)(513.1,0.0112)(515.6,0.009)(518.1,0.0134)(520.6,0.0156)(523.1,0.0243)(525.6,0.0309)(528.1,0.0287)(530.7,0.0375)(532.4,0.0243)(534.4,0.0287)(536.9,0.0222)(539.4,0.0287)(541.9,0.0243)(543.9,0.0287)(546.5,0.0156)(549,0.02)(551.5,0.0243)(554,0.0287)(556.5,0.02)(559,0.0331)(561.6,0.0452)(564.1,0.0419)(566.6,0.0529)(568.3,0.0594)(570.1,0.0726)(572.1,0.0594)(574.6,0.0419)(577.1,0.0463)(579.6,0.0419)(582.2,0.0485)(584.7,0.0463)(587.2,0.0287)(589.7,0.0112)(591.7,0.02)(593.7,0.0156)(595.7,0.02)(597.7,0.0682)(599.7,0.0507)(601.8,0.0375)(603.5,0.0507)(605.3,0.0287)(607.3,0.0419)(609.3,0.0375)(611.1,0.0463)(612.8,0.0309)(614.8,0.0507)(616.8,0.0375)(618.6,0.0463)(620.4,0.0287)(622.4,0.0463)(624.4,0.0331)(626.4,0.0814)(627.9,0.0638)(629.9,0.0726)(631.9,0.0594)(633.9,0.077)(635.9,0.0660)(637.9,0.0814)(639.9,0.0857)(641.5,0.0871)(643.5,0.0682)(645.5,0.0485)(648.7,0.0419)(652.5,0.0375)(656.3,0.0353)(660.1,0.0353)(663.8,0.0353)(667.6,0.0419)(670.1,0.0594)(671.6,0.0748)(673.1,0.0309)(676.4,0.0156)(680.2,0.0134)(683.9,0.0123)(687.7,0.009)(691.5,0.0068)(695.2,0.0046)(697.7,0.0046)(700.3,0.0068)(702.8,0.009)(705.3,0.0134)(707.8,0.0112)(709.8,0.0002)(711.6,0.009)(713.3,0.0024)(715.3,0.0068)(717.3,0.0287)(718.8,0.0068)(720.9,0.0287)(722.9,0.0792)(724.9,0.0638)(726.6,0.0551)(728.4,0.0726)(730.4,0.0594)(731.9,0.1033)(733.4,0.1164)(734.9,0.1439)(736.7,0.0901)(738.1,0.0945)(739.4,0.0726)(740.9,0.1164)(742.5,0.0419)(748,0.0408)(750,0.0408)};
\addplot[ciline, forget plot] coordinates {(400,-0.0112)(405.8,-0.0112)(406.8,-0.0305)(407.8,-0.0151)(409.5,-0.0195)(411.3,-0.0239)(413.3,-0.0217)(415.1,-0.0327)(416.8,-0.0283)(418.3,-0.0436)(420.1,-0.0327)(421.9,-0.0283)(423.9,-0.0261)(425.9,-0.0195)(427.9,-0.0283)(429.9,-0.0371)(431.4,-0.0546)(432.9,-0.0634)(434.4,-0.0546)(435.9,-0.0327)(437.7,-0.0283)(439.4,-0.0239)(441.5,-0.0305)(444,-0.0261)(446,-0.0217)(447.7,-0.0261)(449.5,-0.0217)(451.5,-0.0327)(453,-0.0502)(454.5,-0.0458)(456.5,-0.0458)(459,-0.0393)(461.6,-0.0371)(464.1,-0.0327)(466.6,-0.0283)(469.1,-0.0239)(471.6,-0.0195)(474.1,-0.0217)(476.6,-0.0173)(479.1,-0.0195)(481.7,-0.0283)(484.2,-0.0327)(486.7,-0.0436)(488.7,-0.0283)(490.5,-0.0327)(492.2,-0.0239)(494.2,-0.0195)(496.7,-0.0217)(499.2,-0.0261)(501.8,-0.0283)(504.3,-0.0305)(506.8,-0.0327)(509.3,-0.0349)(511.8,-0.0316)(514.3,-0.0283)(516.8,-0.0261)(519.3,-0.0239)(521.9,-0.0195)(524.4,-0.0151)(526.9,-0.0107)(529.4,-0.0195)(531.9,-0.0239)(534.4,-0.0195)(536.9,-0.0261)(539.4,-0.0239)(541.9,-0.0283)(544.5,-0.0195)(547,-0.0217)(549.5,-0.0195)(552,-0.0151)(554.5,-0.0151)(557,-0.0239)(559.5,-0.0261)(562.1,-0.0195)(564.6,-0.0173)(567.1,-0.0283)(569.6,-0.0042)(572.1,-0.0064)(574.6,-0.0064)(577.1,-0.0107)(579.1,-0.0107)(582.2,-0.0107)(584.7,-0.0151)(587.2,-0.0414)(589.2,-0.0393)(591.2,-0.0283)(593.2,-0.0327)(595.2,-0.0414)(596.7,-0.0502)(598.2,-0.0151)(600.3,-0.0283)(602.3,-0.0151)(604.3,-0.0261)(606,-0.0107)(607.8,-0.0239)(609.8,-0.0151)(611.8,-0.0195)(613.6,-0.0086)(615.3,-0.0239)(617.3,-0.0107)(619.3,-0.0195)(621.4,-0.0064)(623.4,-0.0261)(624.9,-0.0283)(626.4,-0.059)(627.9,-0.0414)(629.9,-0.07)(631.9,-0.0546)(633.4,-0.0853)(634.9,-0.0678)(636.4,-0.0743)(637.9,-0.0765)(639.4,-0.0787)(641,-0.0502)(643,-0.0283)(645,-0.0195)(648.7,-0.0064)(652.5,-0.002)(656.3,-0.0042)(660.1,-0.0064)(663.8,-0.0107)(667.6,-0.0151)(670.1,-0.0283)(671.6,-0.0217)(673.1,-0.0151)(676.4,-0.0195)(680.2,-0.0217)(683.9,-0.0261)(687.7,-0.0283)(691.5,-0.0316)(695.2,-0.0349)(699,-0.0371)(702.8,-0.0393)(705.3,-0.0371)(707.8,-0.0458)(709.8,-0.0524)(711.6,-0.0436)(713.3,-0.0393)(715.3,-0.0568)(717.3,-0.0414)(718.8,-0.0612)(720.9,-0.0349)(722.9,-0.0371)(724.9,-0.0327)(726.6,-0.0502)(728.4,-0.0809)(730.4,-0.1094)(731.9,-0.0897)(733.4,-0.1029)(734.9,-0.1138)(736.7,-0.0985)(738.4,-0.1379)(739.9,-0.1029)(741.7,-0.0809)(743.5,-0.0228)(748,-0.0228)(750,-0.1379)};
\addplot[meanline, forget plot] coordinates {(400,0.0068)(405.8,0.0068)(406.8,-0.0086)(407.8,-0.0107)(409,0.0167)(410.8,0.0046)(412.1,0.0101)(413.3,-0.0042)(414.6,0.0024)(415.8,0.009)(417.1,-0.0086)(418.8,-0.0107)(420.1,-0.0162)(421.4,-0.0031)(422.9,-0.0107)(423.9,-0.0086)(425.4,-0.002)(427.4,0.0134)(428.9,-0.002)(430.4,0.0002)(431.9,0.0309)(433.4,0.0145)(435.4,0.0419)(437.4,0.0397)(439.4,0.0068)(441.5,0.0024)(444,-0.0009)(446,0.0024)(447.5,0.0002)(449.5,0.0101)(451.5,-0.0064)(452.8,-0.014)(454.5,-0.0162)(456,0.0002)(457.8,0.002)(459.5,-0.0042)(461.6,-0.0031)(463.6,-0.0064)(465.3,-0.0081)(467.8,-0.0042)(470.4,-0.002)(472.9,-0.0009)(475.4,0.0013)(477.1,-0.0009)(479.1,0.0046)(481.2,0.0024)(482.9,0.0156)(484.7,0.0145)(486.7,-0.0107)(488.7,-0.0042)(490.5,0.0068)(492.2,0.009)(494.2,-0.002)(496.7,-0.002)(499.2,-0.0042)(501.8,-0.0031)(504.3,-0.0064)(506.8,-0.0086)(509.3,-0.0107)(511.8,-0.0118)(514.3,-0.013)(516.8,-0.0086)(519.3,-0.0064)(521.9,-0.0042)(524.4,0.009)(526.4,0.0112)(528.1,0.0046)(529.9,-0.002)(531.4,0.0112)(533.2,-0.0009)(534.9,0.009)(536.9,-0.002)(538.9,0.0068)(541,-0.0042)(543.2,0.0068)(545,0.0002)(547,-0.0064)(549.5,-0.0009)(551.5,0.0068)(553.3,-0.002)(555.8,-0.0031)(558.3,-0.002)(560.8,0.0167)(562.6,0.0112)(564.6,0.0112)(565.8,0.0024)(567.6,0.0156)(569.6,0.0331)(571.6,0.0364)(573.6,0.0375)(575.1,0.0386)(577.1,0.02)(579.1,0.0178)(580.9,0.0156)(582.7,0.02)(584.7,0.0156)(586.4,-0.0042)(588.4,-0.0305)(590.2,-0.014)(591.7,-0.0064)(593.5,-0.0031)(595.2,-0.002)(596.7,-0.0173)(598.5,0.0353)(600.3,0.0024)(601.8,0.0221)(603.5,0.0156)(604.8,0.0265)(606.8,0.0134)(608.5,0.02)(610.3,0.0178)(612.3,0.0156)(614.3,0.0287)(616.1,0.0145)(617.8,0.0265)(619.8,0.009)(621.4,0.0309)(622.9,0.0068)(624.9,0.0123)(626.9,0.009)(628.6,0.0156)(630.4,-0.002)(632.4,-0.0151)(634.9,-0.0064)(636.9,-0.0107)(638.7,0.0024)(639.9,-0.0162)(642,0.0265)(643.7,0.0178)(646.2,0.0156)(648.7,0.0178)(651.3,0.0189)(653.8,0.0156)(656.3,0.0156)(658.8,0.0145)(661.3,0.0112)(663.8,0.0112)(666.3,0.0156)(668.8,0.0134)(671.4,0.0221)(673.1,0.0134)(675.1,0.0013)(677.6,-0.0009)(681.4,-0.0031)(685.2,-0.0053)(688.9,-0.0086)(692.7,-0.0118)(695.7,-0.0162)(697.7,-0.0151)(700.3,-0.0195)(702.8,-0.0107)(705.3,-0.0151)(707.8,-0.013)(709.8,-0.0327)(711.6,-0.0305)(713.3,-0.0239)(715.3,-0.0382)(717.3,-0.0064)(718.8,-0.0382)(720.4,-0.0107)(721.6,-0.0151)(722.9,0.0002)(724.9,0.0243)(726.6,0.0112)(728.4,-0.0195)(730.4,-0.0393)(731.9,-0.0042)(733.4,0.0156)(734.9,0.0419)(736.7,-0.0107)(738.4,-0.0195)(739.9,-0.0414)(741.7,0.0287)(743.5,0.009)(748,0.009)(750,-0.0491)};
\addplot[zeroline, forget plot] coordinates {(382.5,0)(767.5,0)};
\end{axis}
%================ Peri
\begin{axis}[panel, llegend, at={(51.05pt,314.3pt)},
  ymin=-0.1598, ymax=0.1415,
  ytick={-0.15,-0.1,-0.05,0,0.05,0.1},
  yticklabels={−0.15,−0.10,−0.05,0.00,0.05,0.10},
  title={Peri}, ylabel={\aph{} coefficients for Peri}]
\legentries
\band{414.5}{417}\band{526.8}{528.4}\band{563.2}{566.5}\band{567.5}{571.6}\band{573.4}{577.2}\band{585.5}{587.1}\band{589.1}{590.7}\band{592.9}{594.5}
\band{598}{606.4}\band{643.3}{645.8}\band{648.8}{650.4}\band{699.8}{701.4}\band{703.5}{705.1}\band{706}{707.6}
\band{711.4}{713}\band{714}{715.7}\band{717}{718.5}\band{719.5}{721}\band{722}{723.3}\band{727.2}{729}\band{730}{732.3}
\addplot[ciline, forget plot] coordinates {(400,0.0213)(405.1,0.0213)(406.4,0.014)(408.1,0.0306)(409.9,0.0483)(411.4,0.0348)(413.2,0.039)(414.5,0.0515)(415.8,0.064)(417.5,0.039)(419.1,0.0265)(420.8,0.0223)(422.1,0.0306)(424.1,0.014)(425.9,0.0265)(427.7,0.0181)(429.2,0.0348)(431,0.0431)(432.3,0.0556)(433.6,0.0869)(434.8,0.0806)(436.4,0.0723)(437.9,0.0431)(439.4,0.0452)(441.2,0.0306)(443,0.0463)(445,0.0348)(447,0.039)(449.1,0.041)(451.1,0.0431)(453.1,0.0473)(455.2,0.0515)(457.2,0.0577)(458.5,0.0588)(460.2,0.0369)(462.3,0.0306)(464.3,0.0285)(466.3,0.0265)(468.4,0.0306)(470.4,0.0265)(472.4,0.0244)(474.5,0.0265)(476.5,0.0306)(478.5,0.0348)(480.6,0.0369)(482.1,0.0463)(483.6,0.0431)(485.7,0.0348)(487.7,0.0285)(489.7,0.0244)(491.8,0.016)(493.8,0.014)(495.8,0.016)(497.9,0.0181)(499.9,0.016)(501.9,0.016)(504,0.0181)(506,0.016)(508,0.014)(510.1,0.016)(512.1,0.014)(514.1,0.0098)(516.2,0.0056)(518.2,0.0098)(520.2,0.014)(522.3,0.016)(524.3,0.0098)(526.3,0.014)(528.4,0.0223)(530.4,0.0265)(532.4,0.0285)(534.5,0.0244)(536.5,0.0369)(538.5,0.0223)(540.6,0.0306)(542.6,0.0181)(544.6,0.0285)(546.7,0.016)(548.7,0.0306)(550.7,0.0223)(552.8,0.0285)(554.8,0.0223)(556.8,0.0265)(558.9,0.0306)(560.9,0.0348)(562.9,0.0598)(564.9,0.0619)(567,0.0619)(569,0.0723)(570.6,0.0765)(572.1,0.0556)(574.1,0.0515)(576.2,0.039)(578.2,0.0306)(580.2,0.0265)(582.3,0.0348)(584.3,0.0306)(586.3,0.0181)(588.4,0.0244)(590.4,0.0223)(592.4,0.0348)(594.5,0.0431)(596.5,0.0515)(598,0.0869)(600.1,0.066)(602.1,0.0473)(604.1,0.0431)(606.2,0.039)(608.2,0.0348)(610.2,0.0369)(612.3,0.0306)(614.3,0.0348)(616.3,0.0265)(618.4,0.0306)(620.4,0.0244)(622.4,0.0348)(624.2,0.0348)(626,0.0515)(628,0.0598)(630,0.0556)(632.1,0.0619)(634.1,0.0765)(635.6,0.091)(637.7,0.0994)(638.9,0.116)(640.7,0.0994)(642.2,0.1077)(644.3,0.0765)(646.3,0.0598)(648.3,0.0515)(650.9,0.0431)(653.4,0.0348)(656,0.0306)(658.5,0.0285)(661.1,0.0265)(664.9,0.0244)(667.4,0.0265)(670,0.0348)(671.7,0.0494)(673.8,0.014)(676.3,0.0119)(680.1,0.0119)(683.9,0.0098)(687.7,0.0098)(691.6,0.0067)(695.4,0.0035)(697.9,0.0046)(700.5,0.0056)(703,0.0077)(705.5,0.0067)(708.1,0.0098)(709.9,0.014)(711.9,0.0223)(713.9,0.014)(716,0.0348)(718,0.0306)(719.5,0.0515)(721.1,0.039)(722.6,0.0556)(724.1,0.0452)(725.6,0.066)(727.2,0.0556)(728.7,0.0806)(730.2,0.0765)(731.7,0.0723)(733.3,0.0806)(734.8,0.0765)(736.3,0.0869)(737.8,0.0723)(739.4,0.0806)(740.4,0.1015)(741.6,0.1285)(742.9,0.091)(744.4,0.0077)(748.8,0.0077)(750,0.066)};
\addplot[ciline, forget plot] coordinates {(400,-0.0148)(405.1,-0.0148)(406.4,-0.0277)(408.1,-0.0131)(409.9,-0.0069)(411.4,-0.0194)(413.2,-0.011)(414.5,-0.0027)(415.8,0.0015)(417.5,-0.0194)(419.1,-0.0235)(420.8,-0.0277)(422.6,-0.0194)(424.7,-0.0444)(426.2,-0.0277)(427.7,-0.036)(429.2,-0.0235)(430.8,-0.0402)(432.3,-0.0485)(433.8,-0.0902)(435.3,-0.0735)(436.9,-0.0527)(438.4,-0.0402)(439.9,-0.034)(441.4,-0.0277)(443,-0.0298)(445,-0.0235)(447,-0.0277)(449.1,-0.0194)(451.1,-0.0173)(453.1,-0.0235)(455.2,-0.0402)(456.7,-0.0517)(458.2,-0.0298)(460.2,-0.034)(462.3,-0.0319)(464.3,-0.034)(466.3,-0.0277)(468.4,-0.0173)(470.4,-0.0152)(472.4,-0.0131)(474.5,-0.0152)(476.5,-0.0131)(478.5,-0.0173)(480.6,-0.0152)(482.1,-0.0194)(483.6,-0.0402)(485.2,-0.0506)(487.2,-0.0381)(489.2,-0.036)(491.3,-0.0319)(493.3,-0.0277)(495.3,-0.0235)(497.4,-0.0277)(499.4,-0.0298)(501.4,-0.0277)(503.5,-0.0298)(505.5,-0.0319)(507.5,-0.0319)(509.6,-0.034)(511.6,-0.0319)(513.6,-0.036)(515.7,-0.0381)(517.7,-0.036)(519.7,-0.0319)(521.8,-0.0277)(523.8,-0.0298)(525.8,-0.034)(527.6,-0.0402)(529.4,-0.0235)(531.4,-0.0215)(533.5,-0.0256)(535.5,-0.0277)(537.5,-0.0215)(539.6,-0.0152)(541.6,-0.0194)(543.6,-0.0131)(545.7,-0.0173)(547.7,-0.011)(549.7,-0.0194)(551.8,-0.0235)(553.8,-0.0194)(555.8,-0.0173)(557.9,-0.0194)(559.9,-0.0235)(561.9,-0.0069)(564,-0.0027)(566,-0.0048)(568,-0.0006)(570.1,-0.0027)(572.1,-0.0131)(574.1,-0.0069)(576.2,-0.0152)(578.2,-0.0194)(580.2,-0.0235)(582.3,-0.0319)(584.3,-0.036)(585.8,-0.059)(587.8,-0.0423)(589.9,-0.0319)(591.9,-0.0402)(594,-0.0277)(596,-0.0131)(598,0.0015)(600.1,-0.0069)(602.6,-0.011)(605.1,-0.0152)(607.7,-0.0173)(610.2,-0.0194)(612.8,-0.0173)(615.3,-0.0277)(617.8,-0.0235)(620.4,-0.0319)(622.4,-0.036)(624.5,-0.0485)(626.5,-0.061)(628,-0.111)(629.5,-0.0798)(631.1,-0.084)(632.6,-0.086)(634.1,-0.0985)(635.6,-0.086)(637.2,-0.0694)(638.7,-0.0485)(640.7,-0.0235)(642.8,-0.011)(644.8,-0.0069)(646.8,-0.0048)(649.6,-0.009)(652.2,-0.011)(654.7,-0.0152)(657.2,-0.0194)(659.8,-0.0235)(662.3,-0.0277)(664.9,-0.0319)(667.4,-0.036)(670,-0.0423)(671.7,-0.0548)(673.8,-0.0319)(676.3,-0.0256)(680.1,-0.0235)(683.9,-0.0256)(687.7,-0.0277)(691.6,-0.0319)(695.4,-0.036)(699.2,-0.0402)(702.2,-0.0402)(704.3,-0.0465)(706.3,-0.0444)(708.3,-0.0527)(709.9,-0.0444)(711.4,-0.061)(712.9,-0.0485)(714.5,-0.0652)(716,-0.0527)(717.5,-0.0735)(719.1,-0.061)(720.6,-0.0819)(722.1,-0.0652)(723.6,-0.061)(725.1,-0.0715)(726.6,-0.086)(728.2,-0.0944)(729.7,-0.1027)(731.2,-0.1319)(732.8,-0.111)(734.3,-0.0985)(735.8,-0.1152)(737.3,-0.0902)(738.8,-0.1485)(740.4,-0.0985)(741.9,-0.0694)(743.4,-0.0558)(748.8,-0.0558)(750,-0.111)};
\addplot[meanline, forget plot] coordinates {(400,0.0035)(405.1,0.0035)(406.4,-0.0069)(408.1,0.0056)(409.9,0.0202)(411.4,0.0119)(413.2,0.0181)(414.5,0.014)(415.8,0.0379)(417,0.014)(418.6,0.0056)(420.1,-0.0017)(421.6,0.0077)(423.1,0.0098)(424.7,-0.0131)(426.2,0.0015)(427.7,-0.009)(429.2,0.0129)(430.8,-0.0048)(432.3,0.0077)(433.8,-0.0048)(435.3,0.014)(437.4,0.0198)(438.9,0.0056)(440.4,-0.0048)(441.9,0.0056)(443.5,0.0129)(445,-0.0027)(446.5,0.0015)(448,0.0077)(449.6,0.0115)(451.1,0.0098)(453.1,0.0077)(455.2,0.0098)(457.2,-0.0006)(459.2,0.0056)(461.3,-0.0006)(463.3,-0.0017)(465.3,-0.0027)(467.4,-0.0048)(469.1,0.0094)(470.9,0.0067)(473,0.0035)(475,0.0056)(476.8,0.0098)(478.5,0.0056)(480.6,0.0119)(482.1,0.0156)(483.6,-0.0069)(485.2,-0.01)(487.2,0.0004)(488.7,-0.0131)(490.7,-0.0048)(492.8,-0.0131)(494.8,-0.0048)(496.8,-0.011)(498.9,-0.0079)(500.9,-0.009)(502.9,-0.0069)(505,-0.009)(507,-0.0048)(509.1,-0.0069)(511.1,-0.009)(513.1,-0.0048)(514.9,-0.011)(516.7,-0.0194)(518.7,-0.011)(520.7,-0.009)(522.5,-0.0058)(524.3,-0.0152)(525.8,-0.011)(527.6,-0.0194)(529.4,0.0035)(531.4,-0.0027)(533.5,-0.0006)(535.2,-0.0048)(537,0.0015)(539,0.0108)(541.1,0.0098)(543.1,-0.0027)(545.1,0.0098)(547.2,0.0015)(549.2,0.0056)(551.2,-0.0048)(553.3,-0.0006)(555.3,0.0015)(557.3,0.0077)(559.4,-0.0048)(561.4,0.0015)(562.9,0.0327)(564.9,0.0306)(567,0.0379)(569,0.039)(571.1,0.039)(572.6,0.0202)(574.1,0.039)(575.6,0.0306)(577.2,0.014)(579.2,0.0056)(581.2,-0.0048)(583.3,-0.0069)(584.8,0.0015)(586.1,-0.034)(587.8,-0.0194)(589.4,-0.0006)(591.2,-0.0173)(592.9,-0.009)(595,0.0015)(597,0.0348)(598.8,0.0442)(600.6,0.041)(601.6,0.0577)(603.1,0.0327)(604.6,0.0265)(606.2,0.0119)(608.2,0.016)(610.2,0.0098)(612.3,0.0056)(614,0.014)(615.8,0.0015)(617.8,0.0056)(619.9,-0.0048)(621.7,0.014)(623.4,-0.0152)(625.5,-0.0173)(627.5,-0.0048)(628.5,-0.0423)(630,-0.0194)(631.6,-0.0319)(633.1,-0.0215)(635.1,-0.0048)(636.9,-0.0069)(638.2,0.0181)(639.7,0.0348)(641.7,0.0463)(643.3,0.0431)(644.8,0.0306)(646.3,0.0327)(647.8,0.0223)(649.6,0.0244)(651.4,0.0181)(653.4,0.016)(655.5,0.0098)(657.5,0.0077)(659.8,0.0077)(662.3,0.0046)(664.9,0.0035)(667.4,0.0035)(670,0.0015)(671.2,-0.0027)(673.3,-0.01)(675.3,-0.0069)(677.6,-0.0048)(680.1,-0.0048)(682.7,-0.0069)(685.2,-0.009)(687.7,-0.0079)(690.3,-0.01)(692.8,-0.0131)(695.4,-0.0163)(697.9,-0.0173)(700.5,-0.0194)(702.2,-0.0173)(704.3,-0.0235)(706.3,-0.0173)(708.3,-0.0256)(709.9,-0.0152)(711.4,-0.034)(712.9,-0.0152)(714.5,-0.0402)(716,-0.0173)(717.5,-0.0465)(719.1,-0.0235)(720.6,-0.0506)(722.1,-0.0131)(723.6,-0.0131)(725.1,-0.0235)(726.6,-0.0215)(728.2,-0.0527)(729.7,-0.0485)(730.7,-0.0788)(732.2,-0.0631)(733.8,-0.0235)(735.3,-0.0152)(737.3,-0.0381)(739.4,-0.0569)(740.6,-0.0277)(741.6,0.014)(742.6,0.0327)(743.9,-0.0235)(748.8,-0.0235)(750,-0.0215)};
\addplot[zeroline, forget plot] coordinates {(382.5,0)(767.5,0)};
\end{axis}
%================ TChlb
\begin{axis}[panel, clegend, at={(416.7pt,314.3pt)},
  ymin=-0.175, ymax=0.1919,
  ytick={-0.15,-0.1,-0.05,0,0.05,0.1,0.15},
  yticklabels={−0.15,−0.10,−0.05,0.00,0.05,0.10,0.15},
  title={TChlb}, ylabel={\aph{} coefficients for TChlb}]
\legentries
\band{421.4}{425.2}\band{437.7}{439.8}\band{575.8}{577.4}\band{671}{674.5}\band{690.6}{707.7}\band{710}{716.3}\band{717.1}{718.6}\band{720.8}{724.4}
\addplot[ciline, forget plot] coordinates {(400,0.0147)(405.8,0.0147)(407.5,0.019)(409.3,0.0254)(410.8,0.0216)(412.6,0.0266)(414.3,0.0279)(415.9,0.019)(417.6,0.014)(419.4,0.0165)(420.9,0.0063)(422.6,0.0114)(424.4,0.014)(425.9,0.0114)(427.7,0.014)(429.4,0.0216)(431,0.0317)(432,0.0673)(433.5,0.0723)(435,0.0939)(436.5,0.0774)(438,0.0622)(439.5,0.0419)(441,0.0393)(443,0.0317)(445,0.0266)(447.1,0.0317)(449.1,0.0241)(451.1,0.0216)(453.1,0.0317)(454.6,0.052)(456.1,0.0571)(457.6,0.0546)(459.6,0.0495)(461.6,0.0444)(463.7,0.0444)(465.7,0.0393)(467.7,0.0368)(469.7,0.033)(471.7,0.0317)(473.7,0.0266)(475.7,0.0216)(477.8,0.019)(479.3,0.0241)(481.3,0.0216)(483.3,0.0292)(485.3,0.0266)(487.3,0.0317)(489.3,0.0292)(491.3,0.0216)(493.4,0.019)(495.4,0.0241)(497.4,0.0254)(499.4,0.0254)(501.4,0.0241)(503.4,0.0241)(505.4,0.0216)(507.4,0.0216)(509.5,0.019)(511.5,0.0165)(513.5,0.0152)(515.5,0.014)(517.5,0.0114)(519.5,0.014)(521.5,0.0114)(523.6,0.0165)(525.6,0.019)(527.6,0.0165)(529.6,0.019)(531.6,0.0216)(533.6,0.0216)(535.6,0.019)(537.6,0.019)(539.7,0.0165)(541.7,0.014)(543.7,0.0089)(545.7,0.0089)(547.7,0.014)(549.7,0.0165)(551.7,0.019)(553.7,0.019)(555.8,0.0216)(557.8,0.0266)(559.8,0.0292)(561.8,0.0317)(563.8,0.0355)(565.8,0.0393)(567.8,0.0439)(569.9,0.0393)(571.9,0.0368)(573.9,0.0393)(575.9,0.0419)(577.9,0.0368)(579.9,0.0317)(581.9,0.0292)(583.9,0.0343)(586,0.0368)(588,0.0317)(590,0.0292)(592,0.0165)(594,0.0317)(596,0.052)(597.5,0.0698)(599,0.0622)(600.6,0.0444)(602.6,0.0368)(604.6,0.0343)(606.6,0.0368)(608.6,0.0317)(610.6,0.0343)(612.6,0.0368)(614.6,0.0343)(616.7,0.0368)(618.7,0.0317)(620.2,0.0368)(621.7,0.0419)(623.2,0.0368)(625.2,0.047)(626.7,0.0622)(628.2,0.08)(629.7,0.0723)(631.3,0.0673)(632.8,0.0774)(634.3,0.0723)(635.8,0.0622)(637.3,0.0825)(638.8,0.0914)(640.3,0.0825)(641.8,0.0622)(643.8,0.052)(645.8,0.0419)(647.9,0.0368)(650.4,0.0292)(652.9,0.0241)(655.4,0.0254)(657.9,0.0266)(660.4,0.0292)(662.9,0.0317)(665.5,0.0343)(668,0.0368)(669.5,0.047)(671,0.0698)(672,0.0977)(673.5,0.0571)(675.2,0.0368)(677.7,0.0292)(680.2,0.0216)(682.7,0.019)(685.2,0.014)(687.7,0.0063)(690.2,0.0038)(692.7,-0.0013)(695.2,-0.0038)(697.8,-0.0063)(700.3,0.0013)(702.8,-0.0038)(705.3,0.0013)(707.7,0.0063)(709.8,-0.0013)(711.8,-0.0063)(713.8,-0.0038)(715.8,0.0165)(717.3,0.0266)(718.8,0.0165)(720.3,0.0317)(721.8,0.047)(723.4,0.0317)(724.9,0.052)(726.4,0.0419)(727.9,0.052)(729.4,0.047)(730.9,0.0622)(732.4,0.0825)(733.9,0.0914)(735.4,0.0825)(736.9,0.1129)(737.9,0.1764)(738.9,0.1129)(739.9,0.118)(740.9,0.1383)(742,0.0825)(743,0.0254)(748.5,0.0254)(750,0.0825)};
\addplot[ciline, forget plot] coordinates {(400,-0.0203)(405.8,-0.0203)(407.5,-0.0216)(409.3,-0.0305)(410.8,-0.0266)(412.6,-0.0317)(414.3,-0.0241)(415.9,-0.0343)(417.6,-0.0419)(419.4,-0.0343)(421.4,-0.0292)(422.9,-0.0444)(424.4,-0.0419)(425.9,-0.0317)(427.7,-0.0343)(429.4,-0.0393)(431,-0.0546)(432,-0.0774)(433,-0.1053)(434.5,-0.0698)(436,-0.0393)(437.5,-0.0292)(439,-0.0241)(440.5,-0.0343)(442.5,-0.0292)(444.5,-0.0368)(446.6,-0.0241)(448.6,-0.0292)(450.6,-0.0266)(452.6,-0.047)(454.1,-0.0393)(456.1,-0.0419)(458.1,-0.0343)(460.1,-0.0266)(462.2,-0.019)(464.2,-0.0165)(466.2,-0.014)(468.2,-0.0127)(470.2,-0.0114)(472.2,-0.0089)(474.2,-0.014)(476.2,-0.019)(478.3,-0.0266)(480.3,-0.0368)(482.3,-0.0495)(484.3,-0.0558)(486.3,-0.047)(488.3,-0.0292)(490.3,-0.0216)(492.4,-0.019)(494.4,-0.019)(496.4,-0.0216)(498.4,-0.0241)(500.4,-0.0228)(502.4,-0.0241)(504.4,-0.0266)(506.4,-0.0254)(508.5,-0.0279)(510.5,-0.0266)(512.5,-0.0254)(514.5,-0.0292)(516.5,-0.0279)(518.5,-0.0292)(520.5,-0.0266)(522.5,-0.0279)(524.6,-0.0292)(526.6,-0.0305)(528.6,-0.033)(530.6,-0.0317)(532.6,-0.0368)(534.6,-0.0292)(536.6,-0.0317)(538.7,-0.0266)(540.7,-0.0292)(542.7,-0.0228)(544.7,-0.019)(546.7,-0.0178)(548.7,-0.0228)(550.7,-0.0254)(552.7,-0.0266)(554.8,-0.0254)(556.8,-0.0266)(558.8,-0.033)(560.8,-0.0343)(562.8,-0.0317)(564.8,-0.0292)(566.8,-0.0317)(568.8,-0.0317)(570.9,-0.0165)(572.9,-0.0038)(574.9,-0.0089)(576.9,-0.0089)(578.9,-0.0114)(580.9,-0.0241)(582.9,-0.019)(585,-0.0165)(587,-0.019)(589,-0.014)(591,-0.0241)(593,-0.0114)(595,-0.0089)(597,-0.0038)(599,-0.0089)(601.1,-0.019)(603.1,-0.0114)(605.1,-0.0089)(607.1,-0.014)(609.1,-0.0114)(611.1,-0.0089)(613.1,-0.0063)(615.2,-0.0114)(617.2,-0.0089)(619.2,-0.014)(621.2,-0.0089)(623.2,-0.014)(625.2,-0.0216)(626.7,-0.0926)(628.2,-0.0393)(629.7,-0.0647)(631.3,-0.0698)(632.8,-0.0647)(634.3,-0.0799)(635.8,-0.0876)(637.3,-0.0647)(638.8,-0.0596)(640.3,-0.0444)(642.3,-0.0292)(644.3,-0.0216)(646.4,-0.019)(648.4,-0.0178)(650.4,-0.0152)(652.9,-0.014)(655.4,-0.0127)(657.9,-0.0127)(660.4,-0.0114)(662.9,-0.0102)(665.5,-0.0089)(668,-0.0063)(669.5,-0.0051)(671,-0.0051)(672,-0.0038)(673.5,-0.0102)(675.5,-0.0114)(678.1,-0.0152)(680.6,-0.019)(683.1,-0.0241)(685.6,-0.0292)(688.1,-0.0343)(690.6,-0.0393)(693.2,-0.0419)(695.7,-0.0444)(698.2,-0.047)(700.7,-0.0495)(703.2,-0.0495)(705.7,-0.0495)(707.7,-0.0444)(709.8,-0.0546)(711.8,-0.0596)(713.8,-0.0546)(715.8,-0.0495)(717.3,-0.0647)(718.8,-0.0546)(720.3,-0.0596)(721.8,-0.0698)(723.4,-0.0749)(724.9,-0.0799)(726.4,-0.0749)(727.9,-0.0901)(729.4,-0.1053)(730.9,-0.0977)(732.4,-0.0901)(733.9,-0.1003)(735.4,-0.1358)(736.9,-0.1155)(738.4,-0.1409)(739.9,-0.1586)(741,-0.0774)(742,-0.047)(743,-0.0381)(748.5,-0.0381)(749.5,-0.0926)(750,-0.0926)};
\addplot[meanline, forget plot] coordinates {(400,-0.003)(405.8,-0.003)(407.5,-0.0013)(408.8,-0.0038)(410.8,-0.0013)(412.6,-0.0063)(414.3,0)(416.4,-0.0089)(418.4,-0.0114)(420.1,-0.0102)(421.9,-0.019)(423.9,-0.0211)(425.9,-0.0089)(427.7,-0.0114)(429.4,-0.0038)(431,-0.0063)(432.7,-0.019)(434,0.0165)(435.5,0.019)(437,0.033)(438.5,0.0216)(440.3,0.0013)(442,0.0051)(444,-0.0063)(446,0.0038)(447.8,0.0013)(449.6,0.0025)(451.6,-0.0038)(453.6,-0.014)(455.1,-0.0063)(456.6,0.0114)(458.1,0.0114)(459.6,0.0152)(461.6,0.014)(463.7,0.0152)(465.7,0.0114)(467.7,0.0127)(469.7,0.0114)(471.7,0.0114)(473.7,0.0119)(475.7,0.0051)(477.8,0.0038)(479.8,-0.0025)(481.8,-0.0063)(483.8,-0.0089)(485.8,-0.014)(487.3,-0.0178)(489.3,-0.0038)(491.3,-0.0013)(493.4,-0.0008)(495.4,0)(497.4,0.0013)(499.4,0.0025)(501.4,0.0025)(503.4,0)(505.4,-0.0013)(507.4,-0.0013)(509.5,-0.0025)(511.5,-0.0025)(513.5,-0.0038)(515.5,-0.0063)(517.5,-0.0089)(519.5,-0.0063)(521.5,-0.0076)(523.6,-0.0089)(525.6,-0.0084)(527.6,-0.0063)(529.6,-0.0089)(531.6,-0.0051)(533.6,-0.0084)(535.6,-0.0043)(537.6,-0.0089)(539.7,-0.0043)(541.7,-0.0063)(543.7,-0.0038)(545.7,-0.0063)(547.7,-0.0058)(549.7,-0.0038)(551.7,-0.0063)(553.7,-0.0038)(555.8,-0.0038)(557.8,-0.0025)(559.8,-0.0089)(561.8,-0.0038)(563.8,0.0013)(565.8,0.0051)(567.8,0.0038)(569.9,0.0076)(571.9,0.0114)(573.9,0.0114)(575.4,0.019)(576.9,0.0114)(578.9,0.014)(580.9,0.0063)(582.9,0.0038)(585,0.0076)(587,0.0127)(589,0.0038)(591,-0.0038)(593,0.0038)(595,0.0038)(596.5,0.0266)(598,0.0292)(599.5,0.0216)(601.1,0.0089)(603.1,0.0063)(605.1,0.0089)(607.1,0.0114)(609.1,0.014)(611.1,0.0114)(613.1,0.014)(615.2,0.0114)(617.2,0.014)(619.2,0.0089)(621.2,0.0178)(622.7,0.0063)(624.2,0.0063)(625.7,-0.014)(627.2,0.0292)(628.7,-0.0089)(630.7,0.0013)(632.3,-0.0089)(633.8,0.0178)(635.3,0.0013)(636.3,-0.0292)(637.8,-0.0013)(639.8,0.0165)(641.6,-0.0038)(643.3,0.0216)(645.3,0.0089)(647.4,0.0038)(649.4,0.0051)(651.4,0.0038)(653.4,0.0038)(655.4,0.0051)(657.4,0.0063)(659.4,0.0076)(661.5,0.0084)(663.5,0.0094)(665.5,0.0114)(667.5,0.014)(669,0.0216)(670.5,0.0368)(672,0.0546)(673.5,0.0317)(675.2,0.014)(677.6,0.0063)(679.6,-0.0018)(681.6,-0.0033)(683.6,-0.0051)(685.6,-0.0089)(687.6,-0.0114)(689.6,-0.014)(691.6,-0.0165)(693.7,-0.0178)(695.7,-0.0185)(697.7,-0.0203)(699.7,-0.0228)(701.7,-0.0241)(703.7,-0.0254)(705.2,-0.0279)(706.7,-0.0254)(708.3,-0.0216)(709.8,-0.0292)(711.8,-0.0406)(713.3,-0.0355)(714.8,-0.0241)(716.3,-0.0165)(717.8,-0.0292)(719.3,-0.0114)(720.8,-0.033)(722.3,-0.047)(723.9,-0.0292)(725.9,-0.0114)(727.4,0.0127)(728.9,-0.014)(730.4,-0.0063)(731.9,-0.0292)(733.4,-0.0063)(734.9,-0.0241)(736.4,0.0114)(737.7,0.0723)(738.9,-0.014)(739.9,-0.0609)(740.9,0.0317)(742,0.0343)(743,-0.0063)(750,-0.0063)};
\addplot[zeroline, forget plot] coordinates {(382.5,0)(767.5,0)};
\end{axis}
%================ TChlc
\begin{axis}[panel, llegend, at={(51.05pt,30.8pt)},
  ymin=-0.2015, ymax=0.169,
  ytick={-0.2,-0.15,-0.1,-0.05,0,0.05,0.1,0.15},
  yticklabels={−0.20,−0.15,−0.10,−0.05,0.00,0.05,0.10,0.15},
  title={TChlc}, ylabel={\aph{} coefficients for TChlc}]
\legentries
\band{414.5}{419.5}\band{477.5}{483}\band{484}{485.5}\band{487.5}{490.2}\band{573.4}{589.5}\band{590.2}{591.5}
\band{597}{600}\band{603.9}{606.4}\band{608.2}{610.2}\band{612.3}{616}\band{616.6}{620}
\band{697.2}{700.5}\band{701.5}{705.5}\band{711.4}{714}\band{717.4}{720.5}\band{731}{736.8}\band{742.4}{750.5}
\addplot[ciline, forget plot] coordinates {(400,0.0261)(405.1,0.0261)(406.4,0.0312)(408.1,0.0363)(409.9,0.0542)(411.4,0.0363)(412.9,0.0312)(414.5,0.0465)(416,0.0567)(417.5,0.0414)(419.1,0.0261)(420.6,0.0312)(422.1,0.0261)(423.6,0.0363)(425.2,0.0337)(426.7,0.0363)(428.2,0.0337)(430.2,0.0376)(431.8,0.0465)(432.8,0.0721)(434.3,0.1079)(435.8,0.0874)(437.4,0.0619)(438.9,0.0465)(440.4,0.0363)(441.9,0.0312)(443.5,0.0261)(445,0.0312)(446.5,0.0261)(448,0.021)(450.1,0.0312)(452.1,0.0286)(454.2,0.0261)(456.2,0.0363)(457.7,0.0414)(459.7,0.0363)(461.8,0.0312)(463.8,0.0337)(465.8,0.0312)(467.9,0.0337)(469.9,0.0325)(471.9,0.0312)(474,0.0325)(476,0.0337)(477.5,0.0414)(479.1,0.0465)(480.6,0.0542)(482.1,0.067)(483.6,0.0772)(485.2,0.0798)(486.7,0.067)(488.2,0.0619)(489.7,0.0516)(491.3,0.0363)(493.3,0.0261)(495.3,0.0235)(497.4,0.021)(499.4,0.0184)(501.4,0.0158)(503.5,0.0146)(505.5,0.0133)(507.5,0.0133)(509.6,0.0146)(511.6,0.0158)(513.6,0.0146)(515.7,0.0158)(517.7,0.0184)(519.7,0.021)(521.8,0.0235)(523.8,0.0261)(525.8,0.0286)(527.9,0.0312)(529.9,0.0337)(531.9,0.0389)(534,0.0337)(536,0.0312)(538,0.0286)(540.1,0.0261)(542.1,0.0235)(544.1,0.0222)(546.2,0.0248)(548.2,0.0235)(550.2,0.0261)(552.3,0.0274)(554.3,0.0261)(556.3,0.0286)(558.4,0.0299)(560.4,0.0261)(562.4,0.0299)(564.5,0.0312)(566,0.0414)(567.5,0.0593)(569,0.0567)(570.6,0.0516)(572.1,0.0567)(573.6,0.0619)(575.1,0.067)(576.7,0.0619)(578.2,0.067)(579.7,0.0619)(581.2,0.067)(582.8,0.0721)(584.3,0.0772)(585.8,0.0695)(587.3,0.067)(588.9,0.0567)(590.4,0.0363)(591.9,0.0465)(593.4,0.0363)(595,0.0414)(596.5,0.0516)(597.5,0.09)(599,0.067)(600.6,0.0465)(602.1,0.0414)(603.6,0.0363)(605.1,0.044)(606.7,0.0414)(608.2,0.0465)(609.7,0.0389)(611.2,0.044)(612.8,0.0363)(614.3,0.0414)(615.8,0.0414)(617.3,0.044)(618.9,0.0363)(620.4,0.0312)(621.9,0.0414)(623.4,0.0465)(624.9,0.067)(626.5,0.09)(628,0.0567)(629.5,0.0619)(631.1,0.067)(632.6,0.0567)(634.1,0.0721)(635.6,0.067)(637.2,0.0798)(638.7,0.0913)(640.2,0.067)(641.7,0.0465)(643.8,0.0363)(645.8,0.0286)(648.3,0.0235)(650.9,0.021)(653.4,0.0197)(656,0.0197)(658.5,0.021)(661.1,0.0222)(663.6,0.0235)(666.1,0.0261)(668.2,0.0312)(669.7,0.0414)(671.2,0.0874)(672.8,0.0465)(674.3,0.0363)(676.3,0.0286)(678.9,0.0235)(681.4,0.021)(683.9,0.0158)(686.5,0.0133)(689,0.0107)(691.6,0.0069)(694.1,0.0043)(696.6,0.0018)(699.2,0.0005)(701.7,0.0018)(704.3,0.0056)(706.3,0.0031)(708.3,0.0107)(710.4,0.0056)(712.4,0.0133)(714.5,0.021)(716.5,0.0312)(718,0.0567)(719.5,0.0746)(721.1,0.0567)(722.6,0.0516)(724.1,0.0567)(725.6,0.0772)(727.2,0.0925)(728.7,0.0823)(730.2,0.0925)(731.7,0.1079)(733.3,0.1258)(734.3,0.1437)(735.8,0.1258)(737.3,0.1125)(738.9,0.1385)(740.4,0.1526)(741.4,0.1385)(742.4,0.0874)(743.4,0.04)(747.5,0.04)(750,-0.06)};
\addplot[ciline, forget plot] coordinates {(400,-0.0097)(405.1,-0.0097)(406.4,-0.0123)(408.1,-0.0072)(409.9,-0.0046)(411.4,-0.0123)(413,-0.0097)(414.5,-0.0148)(416,-0.0046)(417.5,-0.0123)(419.1,-0.0199)(420.6,-0.0174)(422.1,-0.0225)(423.6,-0.0199)(425.2,-0.0251)(426.7,-0.0148)(428.2,-0.0225)(430.2,-0.0302)(431.8,-0.0557)(432.8,-0.1069)(434.3,-0.0787)(435.8,-0.0455)(437.4,-0.0302)(438.9,-0.0276)(440.4,-0.0225)(441.9,-0.0199)(443.5,-0.0251)(445,-0.0302)(446.5,-0.0353)(448,-0.0353)(450.1,-0.0404)(452.1,-0.0455)(454.2,-0.0506)(456.2,-0.0557)(457.2,-0.0608)(458.7,-0.0481)(460.2,-0.0404)(461.8,-0.0353)(463.8,-0.0276)(465.8,-0.0225)(467.9,-0.0174)(469.9,-0.0148)(471.9,-0.0123)(474,-0.0123)(476,-0.0097)(477.5,-0.0046)(479.1,-0.0046)(480.6,0.0005)(482.1,0.0005)(483.6,-0.002)(485.2,-0.0046)(486.7,-0.0097)(488.2,-0.0072)(489.7,-0.0123)(491.3,-0.0148)(493.3,-0.0199)(495.3,-0.0225)(497.4,-0.0251)(499.4,-0.0276)(501.4,-0.0302)(503.5,-0.0302)(505.5,-0.0327)(507.5,-0.0314)(509.6,-0.0289)(511.6,-0.0302)(513.6,-0.0289)(515.7,-0.0276)(519.7,-0.0276)(521.8,-0.0263)(525.8,-0.0276)(527.9,-0.0251)(529.9,-0.0251)(531.9,-0.0225)(534,-0.0212)(536,-0.0199)(538,-0.0174)(540.1,-0.0187)(542.1,-0.0174)(544.1,-0.0161)(546.2,-0.0174)(548.2,-0.0148)(550.2,-0.0148)(552.3,-0.0199)(554.3,-0.0225)(556.3,-0.0251)(558.4,-0.0276)(560.4,-0.0302)(562.4,-0.0302)(564.5,-0.0199)(566,-0.0097)(567.5,-0.0072)(569.5,-0.0046)(571.6,0.0005)(573.6,0.0005)(575.6,0.0056)(577.2,0.0005)(579.2,0.0056)(581.2,0.0031)(583.3,0.0056)(585.3,0.0107)(586.8,0.0056)(588.4,0.0005)(589.9,-0.0148)(591.4,-0.0097)(592.9,-0.0046)(595,-0.0148)(596.5,-0.0097)(598,0.0005)(599.5,-0.0046)(601.1,-0.0097)(602.6,-0.0148)(604.1,-0.0097)(605.6,-0.0148)(607.2,-0.0097)(608.7,-0.0046)(610.2,-0.0072)(611.7,-0.0046)(613.3,-0.002)(614.8,-0.0046)(616.3,-0.0046)(617.8,-0.0033)(619.4,0.0005)(620.9,-0.0072)(622.4,-0.0123)(623.9,-0.0225)(625.5,-0.0404)(627,-0.0557)(628.5,-0.0455)(630,-0.0813)(631.6,-0.1017)(633.1,-0.0762)(634.6,-0.066)(636.1,-0.0583)(637.7,-0.066)(639.2,-0.0711)(640.7,-0.0813)(642.2,-0.0557)(643.8,-0.0404)(645.3,-0.0353)(646.8,-0.0302)(648.9,-0.0251)(650.9,-0.0199)(653.4,-0.0212)(656,-0.0225)(661.1,-0.0225)(663.6,-0.0238)(666.1,-0.0238)(668.7,-0.0251)(670.7,-0.0276)(671.7,-0.0046)(673.3,-0.0097)(674.8,-0.0123)(676.8,-0.0148)(679.4,-0.0174)(681.9,-0.0199)(684.4,-0.0225)(687,-0.0251)(689.5,-0.0276)(692.1,-0.0302)(694.6,-0.0327)(697.2,-0.0353)(699.7,-0.0378)(702.2,-0.0404)(704.8,-0.0455)(706.8,-0.0429)(708.8,-0.0481)(710.9,-0.0404)(712.9,-0.0506)(714.9,-0.0455)(717,-0.0532)(718.5,-0.0404)(720,-0.0353)(721.6,-0.0557)(723.1,-0.066)(724.6,-0.0608)(726.1,-0.0813)(727.7,-0.0915)(729.2,-0.1171)(730.7,-0.1426)(732.2,-0.1733)(733.8,-0.1784)(734.8,-0.1477)(736.3,-0.1682)(737.8,-0.158)(739.4,-0.1426)(740.9,-0.1477)(741.9,-0.0864)(742.9,0.03)(747.5,0.03)(750,-0.12)};
\addplot[meanline, forget plot] coordinates {(400,0.0082)(405.1,0.0082)(406.4,0.0095)(407.4,0.0133)(408.4,0.0107)(409.9,0.0248)(411.4,0.0107)(413.2,0.0056)(414.5,0.0261)(416,0.0286)(417.5,0.0312)(419.1,0.0235)(420.8,0.0107)(422.6,-0.002)(424.1,0.0056)(425.9,0.0107)(427.7,0.0146)(429.2,0.0107)(430.8,0.0095)(432.3,-0.0174)(433.8,0.0107)(435.3,0.0312)(436.9,0.0307)(438.4,0.0299)(439.9,0.0107)(441.4,0.0005)(443,0.0031)(444.5,-0.0046)(446,-0.0008)(447.5,0.0018)(449.1,-0.0046)(450.6,-0.0072)(452.1,-0.0123)(453.6,-0.0187)(455.2,-0.0072)(456.7,-0.0097)(458.2,-0.0046)(459.7,-0.002)(461.3,0.0005)(462.8,0.0031)(464.3,0.0056)(465.8,0.0069)(467.4,0.0107)(468.9,0.0095)(470.4,0.0133)(471.9,0.0107)(473.5,0.0158)(475,0.0146)(476.5,0.0184)(478,0.0235)(479.6,0.0261)(481.1,0.0286)(482.6,0.0325)(484.1,0.0376)(485.7,0.0312)(487.2,0.035)(488.7,0.0286)(490.2,0.0261)(492.3,0.0133)(493.8,0.0107)(495.8,0.0107)(497.9,0.0056)(499.9,0.0005)(501.9,-0.0008)(504,-0.0033)(506,-0.0046)(508,-0.0072)(510.1,-0.0097)(512.1,-0.0059)(514.1,-0.0072)(516.2,-0.0072)(518.2,-0.0059)(520.2,-0.0059)(522.3,-0.0046)(524.3,-0.002)(526.3,0.0005)(528.4,0)(530.4,0.0056)(531.9,0.0107)(534,0.0095)(536,0.0107)(538,0.0133)(540.1,0.0107)(542.1,0.012)(544.1,0.0107)(546.2,0.0133)(548.2,0.0107)(550.2,0.0082)(552.3,0.0056)(554.3,0.0082)(556.3,0.0031)(558.4,0.0056)(560.4,0.0043)(562.4,0.0005)(564,-0.0033)(565.5,0.0107)(567,0.021)(568.5,0.0286)(570.1,0.0235)(571.6,0.0312)(573.1,0.0363)(574.6,0.0465)(576.2,0.044)(577.7,0.0376)(579.2,0.0427)(580.7,0.0363)(582.3,0.0419)(583.8,0.0363)(584.8,0.0567)(586.3,0.0465)(587.8,0.0491)(589.4,0.0363)(590.6,0.0005)(591.9,0.021)(593.4,0.0158)(595,0.0261)(596.5,0.0261)(598,0.0491)(599.5,0.0414)(601.1,0.0158)(602.6,0.021)(604.1,0.0107)(605.6,0.0312)(607.2,0.021)(608.7,0.0261)(610.2,0.021)(611.7,0.0235)(613.3,0.021)(614.8,0.0235)(616.3,0.0261)(617.8,0.0235)(619.4,0.021)(620.9,0.0082)(622.4,0.0133)(623.9,-0.0097)(625.5,0.0133)(627,0.0107)(628.5,-0.0046)(630,-0.0276)(631.6,-0.0276)(633.1,-0.0097)(634.6,-0.0046)(635.6,0.0107)(637.2,-0.0148)(638.7,-0.0046)(639.7,0.0261)(640.7,-0.0148)(642.2,-0.0199)(643.8,-0.0148)(645.3,-0.0046)(646.8,-0.002)(648.9,-0.0026)(650.9,-0.0008)(652.9,-0.002)(655,-0.0008)(657,-0.0015)(659,-0.0008)(661.1,-0.002)(663.1,-0.0008)(665.1,0.0005)(667.2,0.0056)(669.2,0.0133)(670.7,0.0235)(671.7,0.035)(673.3,0.021)(675.3,0.0133)(677.3,0.0107)(679.4,0.0069)(681.4,0.0043)(683.4,0.0005)(685.5,-0.002)(687.5,-0.0046)(689.5,-0.0072)(691.6,-0.0097)(693.6,-0.0123)(695.6,-0.0148)(697.7,-0.0187)(699.7,-0.0212)(701.7,-0.0225)(703.8,-0.0174)(705.8,-0.0199)(707.8,-0.0148)(709.9,-0.0199)(711.9,-0.0276)(713.9,-0.0123)(715.5,-0.0046)(716.5,-0.0251)(718,0.0107)(719.5,0.0414)(721.1,0.0107)(722.6,-0.002)(724.1,0.0056)(725.6,-0.0097)(726.6,0.0363)(727.7,0.0312)(728.7,-0.0148)(729.7,-0.0225)(730.7,-0.0276)(731.7,-0.0711)(732.7,-0.0864)(733.8,-0.0941)(734.8,-0.0199)(735.5,0.0925)(736.3,0.0363)(737.3,0.0107)(738.3,-0.0481)(739.4,0.0107)(740.4,0.0363)(741.4,0.058)(742.9,0.0363)(747.5,0.0363)(748.3,0.0056)(749.3,-0.089)(750,-0.089)};
\addplot[zeroline, forget plot] coordinates {(382.5,0)(767.5,0)};
\end{axis}
%================ Zea
\begin{axis}[panel, llegend, at={(416.7pt,30.8pt)},
  ymin=-0.1733, ymax=0.1185,
  ytick={-0.15,-0.1,-0.05,0,0.05,0.1},
  yticklabels={−0.15,−0.10,−0.05,0.00,0.05,0.10},
  title={Zea}, ylabel={\aph{} coefficients for Zea}]
\legentries
\band{416.3}{417.9}\band{423.1}{424.7}\band{437.7}{439.3}\band{453.8}{455.4}\band{474.7}{476.3}\band{524.3}{525.9}\band{527}{528.6}
\band{531.4}{540}\band{540.6}{543.5}\band{544.2}{547.2}\band{548.4}{550}\band{552.7}{554.3}\band{556}{557.6}
\band{567.8}{580.4}\band{585.4}{587}\band{587.9}{589.5}\band{690.1}{697}\band{722.8}{724.4}
\addplot[ciline, forget plot] coordinates {(400,0.0207)(405.8,0.0207)(406.8,0.0258)(408.3,0.0298)(409.8,0.0338)(411.3,0.0358)(412.8,0.0217)(413.8,0.0338)(415.3,0.0439)(416.9,0.0539)(418.4,0.0378)(419.9,0.0177)(421.4,0.0137)(422.9,0.0217)(424.4,0.0197)(425.9,0.0237)(427.4,0.0298)(428.9,0.0258)(430.4,0.0338)(432,0.0419)(433,0.06)(434.5,0.0781)(436,0.0861)(437.5,0.074)(439,0.0579)(440.5,0.0338)(442,0.0237)(443.5,0.0278)(445,0.0217)(446.6,0.0318)(448.1,0.0298)(449.6,0.0338)(451.1,0.0298)(452.6,0.0217)(454.1,0.0157)(455.6,0.0298)(457.1,0.0579)(458.6,0.0459)(460.1,0.0419)(461.6,0.0378)(463.2,0.0338)(464.7,0.0378)(466.2,0.0338)(467.7,0.0318)(469.2,0.0338)(470.7,0.0298)(472.2,0.0318)(473.7,0.0298)(475.2,0.0378)(476.7,0.0217)(478.3,0.0197)(479.8,0.0217)(481.3,0.0258)(482.8,0.0278)(484.3,0.0298)(485.8,0.0217)(487.3,0.0258)(488.8,0.0217)(490.3,0.0197)(491.8,0.0177)(493.3,0.0157)(494.9,0.0167)(496.4,0.0177)(498.4,0.0167)(500.4,0.0177)(502.4,0.0177)(504.4,0.0167)(506.4,0.0177)(508.5,0.0157)(510.5,0.0177)(512.5,0.0187)(514.5,0.0137)(516,0.0157)(518,0.0137)(520,0.0157)(522,0.0117)(524.1,0.0076)(526.1,0.0056)(528.1,0.0076)(530.1,0.0036)(532.1,0.0056)(534.1,0.0016)(536.1,0.0036)(538.2,-0.0004)(540.2,0.0016)(542.2,0.0036)(544.2,0.0016)(546.2,0.0056)(548.2,0.0036)(550.2,0.0056)(552.2,0.0036)(554.2,0.0016)(556.3,0.0056)(558.3,0.0076)(560.3,0.0056)(562.3,0.0097)(563.8,0.0137)(565.3,0.0217)(566.8,0.0439)(568.4,0.074)(569.9,0.0881)(571.4,0.07)(572.9,0.068)(574.4,0.062)(575.9,0.0539)(577.4,0.0459)(578.9,0.0439)(580.4,0.0378)(581.9,0.0338)(583.4,0.0298)(585,0.0419)(586.5,0.0499)(588,0.0338)(589.5,0.0217)(591,0.0278)(592.5,0.0217)(594,0.0237)(595.5,0.0419)(597,0.0539)(598.5,0.071)(600,0.0459)(601.6,0.0217)(603.1,0.0258)(604.6,0.0298)(606.1,0.0258)(607.6,0.0298)(609.1,0.0258)(610.6,0.0298)(612.6,0.0278)(614.6,0.0237)(616.6,0.0278)(618.7,0.0258)(620.7,0.0298)(622.2,0.0338)(623.7,0.0439)(625.2,0.064)(626.7,0.1052)(628.2,0.074)(629.7,0.062)(631.3,0.0781)(632.8,0.0841)(634.3,0.07)(635.8,0.0781)(637.8,0.068)(639.3,0.0861)(640.8,0.064)(642.3,0.0579)(643.8,0.0499)(645.8,0.0459)(647.9,0.0378)(650.4,0.0298)(652.9,0.0258)(655.4,0.0268)(657.9,0.0298)(660.4,0.0318)(663,0.0338)(665.5,0.0358)(667.5,0.0398)(669.5,0.0439)(671,0.0579)(672,0.0771)(673.5,0.0378)(675.5,0.0217)(678.1,0.0157)(680.6,0.0127)(683.1,0.0117)(685.6,0.0097)(688.1,0.0056)(690.6,0.0016)(693.2,0.0016)(695.7,0.0036)(698.2,0.0097)(700.2,0.0056)(702.2,0.0117)(704.2,0.0097)(706.2,0.0177)(707.7,0.0378)(709.3,0.0298)(710.8,0.0217)(712.3,0.0258)(713.8,0.0338)(715.3,0.0519)(716.8,0.0398)(718.3,0.0338)(719.8,0.0378)(721.3,0.0539)(722.8,0.0338)(724.4,0.0439)(725.9,0.0579)(727.4,0.07)(728.9,0.074)(730.4,0.0861)(731.9,0.0781)(733.4,0.0821)(734.9,0.074)(736.4,0.068)(737.9,0.074)(739.4,0.07)(740.4,0.0781)(741.4,0.0911)(742.4,0.0117)(748,0.0117)(749.5,0.0932)(750,0.0932)};
\addplot[ciline, forget plot] coordinates {(400,-0.0151)(405.8,-0.0151)(406.8,-0.0085)(408.3,-0.0145)(409.8,-0.0185)(411.3,-0.0205)(412.8,-0.0266)(413.8,-0.0225)(415.3,-0.0306)(416.9,-0.0225)(418.4,-0.0306)(419.9,-0.0386)(421.4,-0.0467)(422.9,-0.0427)(424.4,-0.0588)(425.9,-0.0386)(427.4,-0.0346)(428.9,-0.0386)(430.4,-0.0427)(432,-0.0588)(433,-0.1392)(434.5,-0.0869)(436,-0.0467)(437.5,-0.0346)(439,-0.0266)(440.5,-0.0245)(442,-0.0366)(443.5,-0.0427)(445,-0.0346)(446.6,-0.0427)(448.1,-0.0386)(449.6,-0.0306)(451.1,-0.0427)(452.6,-0.0527)(454.1,-0.0638)(455.6,-0.0467)(457.1,-0.0386)(458.6,-0.0366)(460.1,-0.0266)(461.6,-0.0225)(463.2,-0.0245)(464.7,-0.0205)(466.2,-0.0185)(467.7,-0.0165)(469.2,-0.0185)(470.7,-0.0145)(472.2,-0.0145)(473.7,-0.0105)(475.2,-0.0064)(476.7,-0.0105)(478.3,-0.0185)(479.8,-0.0306)(481.3,-0.0467)(482.8,-0.0547)(484.3,-0.0598)(485.8,-0.0467)(487.3,-0.0386)(488.8,-0.0346)(490.3,-0.0306)(491.8,-0.0266)(493.3,-0.0245)(494.9,-0.0205)(496.4,-0.0225)(498.4,-0.0266)(500.4,-0.0306)(502.4,-0.0316)(504.4,-0.0306)(506.4,-0.0316)(508.5,-0.0296)(510.5,-0.0276)(512.5,-0.0266)(514.5,-0.0245)(516,-0.0266)(518,-0.0245)(520,-0.0245)(522,-0.0266)(524.1,-0.0326)(526.1,-0.0386)(528.1,-0.0427)(530.1,-0.0467)(532.1,-0.0527)(533.6,-0.0588)(535.1,-0.0507)(536.6,-0.0467)(538.7,-0.0427)(540.7,-0.0386)(542.7,-0.0366)(544.7,-0.0346)(546.7,-0.0326)(548.7,-0.0306)(550.7,-0.0386)(552.7,-0.0366)(554.8,-0.0407)(556.8,-0.0386)(558.3,-0.0346)(559.8,-0.0306)(561.3,-0.0266)(562.8,-0.0225)(564.8,-0.0185)(566.3,-0.0105)(567.8,-0.0024)(569.4,0.0056)(570.9,0.0036)(572.4,0.0097)(573.9,0.0097)(575.4,0.0036)(576.9,-0.0024)(578.4,-0.0064)(579.9,-0.0105)(581.4,-0.0185)(582.9,-0.0467)(584.5,-0.0306)(586,-0.0105)(587.5,-0.0185)(589,-0.0225)(590.5,-0.0185)(592,-0.0245)(593.5,-0.0185)(595,-0.0145)(596.5,-0.0225)(598,-0.0266)(599.5,-0.0427)(601.1,-0.0527)(602.6,-0.0386)(604.1,-0.0346)(605.6,-0.0306)(607.1,-0.0266)(608.6,-0.0225)(610.1,-0.0185)(612.1,-0.0165)(614.1,-0.0185)(616.1,-0.0225)(618.2,-0.0205)(620.2,-0.0245)(622.2,-0.0266)(623.7,-0.0386)(625.2,-0.0588)(626.7,-0.0748)(628.2,-0.0467)(629.7,-0.0668)(631.3,-0.0588)(632.8,-0.0789)(634.3,-0.0668)(635.8,-0.0829)(637.3,-0.0769)(638.8,-0.0869)(640.3,-0.0789)(641.8,-0.0909)(643.3,-0.0507)(644.8,-0.0386)(646.4,-0.0306)(647.9,-0.0266)(650.4,-0.0225)(652.9,-0.0205)(655.4,-0.0225)(657.9,-0.0245)(660.4,-0.0266)(663,-0.0286)(665.5,-0.0266)(667.5,-0.0245)(669.5,-0.0266)(671,-0.0105)(672,-0.0024)(673.5,-0.0185)(675.5,-0.0245)(678.1,-0.0266)(680.6,-0.0286)(683.1,-0.0306)(685.6,-0.0316)(688.1,-0.0326)(690.6,-0.0336)(693.2,-0.0326)(695.7,-0.0346)(698.2,-0.0326)(700.2,-0.0366)(702.2,-0.0346)(704.2,-0.0386)(706.2,-0.0386)(707.7,-0.0427)(709.3,-0.0306)(710.8,-0.0427)(712.3,-0.0507)(713.8,-0.0346)(715.3,-0.0185)(716.8,-0.0306)(718.3,-0.0346)(719.8,-0.0386)(721.3,-0.0427)(722.8,-0.0547)(724.4,-0.0748)(725.9,-0.0588)(727.4,-0.0869)(728.9,-0.0829)(730.4,-0.099)(731.9,-0.107)(733.4,-0.1191)(734.9,-0.1332)(736.4,-0.1392)(737.4,-0.1604)(738.4,-0.1433)(739.9,-0.1473)(741,-0.1272)(742,-0.0527)(743,-0.0517)(748.5,-0.0517)(750,-0.0849)};
\addplot[meanline, forget plot] coordinates {(400,0.0026)(405.8,0.0026)(406.8,0.0107)(408.3,0.0056)(409.8,0.0046)(411.3,0.0117)(412.8,-0.0064)(413.8,-0.0074)(415.3,0.0056)(416.9,0.0278)(418.4,0.0097)(419.9,-0.0105)(421.4,-0.0034)(422.9,-0.0266)(424.4,-0.0286)(425.9,-0.0185)(427.4,-0.0044)(428.9,-0.0024)(430.4,-0.0064)(432,-0.0185)(433,-0.0517)(434.5,-0.0024)(436,0.0237)(437.5,0.0278)(438.5,0.0449)(440,0.0217)(441.5,-0.0105)(443,-0.0044)(444.5,0.0046)(446,-0.0024)(447.6,0.0006)(449.1,0.0036)(450.6,0.0016)(452.1,-0.0105)(453.6,-0.0306)(455.1,-0.0064)(456.6,0.0016)(458.1,0.0056)(459.6,-0.0044)(461.1,0.0076)(462.7,0.0117)(464.2,0.0056)(465.7,0.0087)(467.2,0.0107)(468.7,0.0056)(470.2,0.0076)(471.7,0.0097)(473.2,0.0056)(474.7,0.0187)(476.2,0.0076)(477.8,0.0016)(479.3,0.0026)(480.8,-0.0064)(482.3,-0.0165)(483.8,-0.0064)(485.3,-0.0165)(486.8,-0.0085)(488.3,-0.0145)(489.8,-0.0105)(491.3,-0.0064)(492.9,-0.0145)(494.4,-0.0024)(495.9,0.0006)(497.4,-0.0064)(498.9,-0.0085)(500.9,-0.0085)(502.9,-0.0064)(504.9,-0.0074)(506.9,-0.006)(509,-0.0064)(511,-0.0074)(513,-0.0024)(514.5,-0.0064)(516,-0.0044)(518,-0.0064)(520,-0.0074)(522,-0.0054)(524.1,-0.0145)(526.1,-0.0125)(528.1,-0.0205)(529.6,-0.0185)(531.1,-0.0245)(532.6,-0.0326)(534.1,-0.0306)(535.6,-0.0386)(537.1,-0.0266)(538.7,-0.0205)(540.2,-0.0225)(542.2,-0.0215)(544.2,-0.0205)(545.7,-0.0266)(547.2,-0.0185)(548.7,-0.0105)(550.2,-0.0165)(551.7,-0.0145)(553.7,-0.0205)(555.8,-0.0225)(557.8,-0.0185)(559.3,-0.0145)(560.8,-0.0105)(562.3,-0.0064)(563.3,-0.0034)(564.8,0.0097)(566.3,0.0258)(567.8,0.0398)(569.4,0.0439)(570.9,0.0378)(572.4,0.0429)(573.9,0.0298)(575.4,0.0429)(576.9,0.0258)(578.4,0.0247)(579.9,0.0197)(581.4,0.0097)(582.9,-0.0165)(584.5,0.0036)(586,0.0217)(587.5,0.0177)(589,0.0036)(590.5,0.0097)(592,-0.0064)(593.5,0.0056)(595,0.0137)(596.5,0.0278)(598,-0.0024)(599.5,-0.0105)(601.1,-0.0205)(602.6,-0.0064)(604.1,-0.0024)(605.6,-0.0004)(607.1,0.0036)(608.6,0.0076)(610.1,0.0056)(611.6,0.0016)(613.1,0.0016)(614.6,-0.0024)(616.1,0.0016)(617.7,-0.0024)(619.2,0.0056)(620.7,-0.0024)(622.2,0.0056)(623.7,-0.0064)(625.2,-0.0165)(626.7,0.0298)(628.2,0.0097)(629.7,-0.0064)(631.3,0.0157)(632.8,-0.0085)(634.3,0.0137)(635.8,-0.0024)(637.3,-0.0145)(638.8,-0.0245)(640.3,0.0217)(641.8,-0.0326)(643.3,-0.0024)(644.8,0.0097)(646.4,0.0036)(647.9,0.0056)(649.4,0.0117)(650.9,0.0016)(652.4,0.0056)(653.9,0.0076)(655.9,0.0087)(657.9,0.0097)(659.9,0.0107)(662,0.0117)(664,0.0137)(665.5,0.0157)(667,0.0137)(668.5,0.0217)(670,0.0278)(671.5,0.0247)(673,0.0056)(674.5,-0.0024)(676.5,-0.0064)(678.6,-0.0105)(680.6,-0.0125)(683.1,-0.0135)(685.6,-0.0145)(688.1,-0.0155)(690.6,-0.0165)(693.2,-0.0175)(695.2,-0.0155)(697.2,-0.0105)(698.7,-0.0145)(700.2,-0.0105)(701.7,-0.0165)(703.2,-0.0105)(704.7,-0.0145)(706.2,-0.0155)(707.7,-0.0024)(709.3,0.0076)(710.8,-0.0064)(712.3,-0.0225)(713.8,0.0056)(715.3,0.0237)(716.8,0.0056)(718.3,0.0036)(719.8,-0.0044)(721.3,-0.0064)(722.8,-0.0225)(723.9,-0.0386)(724.9,-0.0064)(725.9,0.0117)(726.9,-0.0064)(727.9,0.0177)(728.9,-0.0145)(729.9,-0.0125)(730.9,-0.0266)(731.9,-0.0165)(732.9,-0.0306)(733.9,-0.0447)(734.9,-0.0185)(735.9,-0.0326)(736.9,-0.0185)(737.9,-0.0567)(738.9,-0.0346)(739.9,-0.0427)(741,-0.0366)(742,0.0036)(743,-0.0205)(748.5,-0.0205)(749.5,0.0036)(750,0.0046)};
\addplot[zeroline, forget plot] coordinates {(382.5,0)(767.5,0)};
\end{axis}
\end{tikzpicture}
\end{document}
